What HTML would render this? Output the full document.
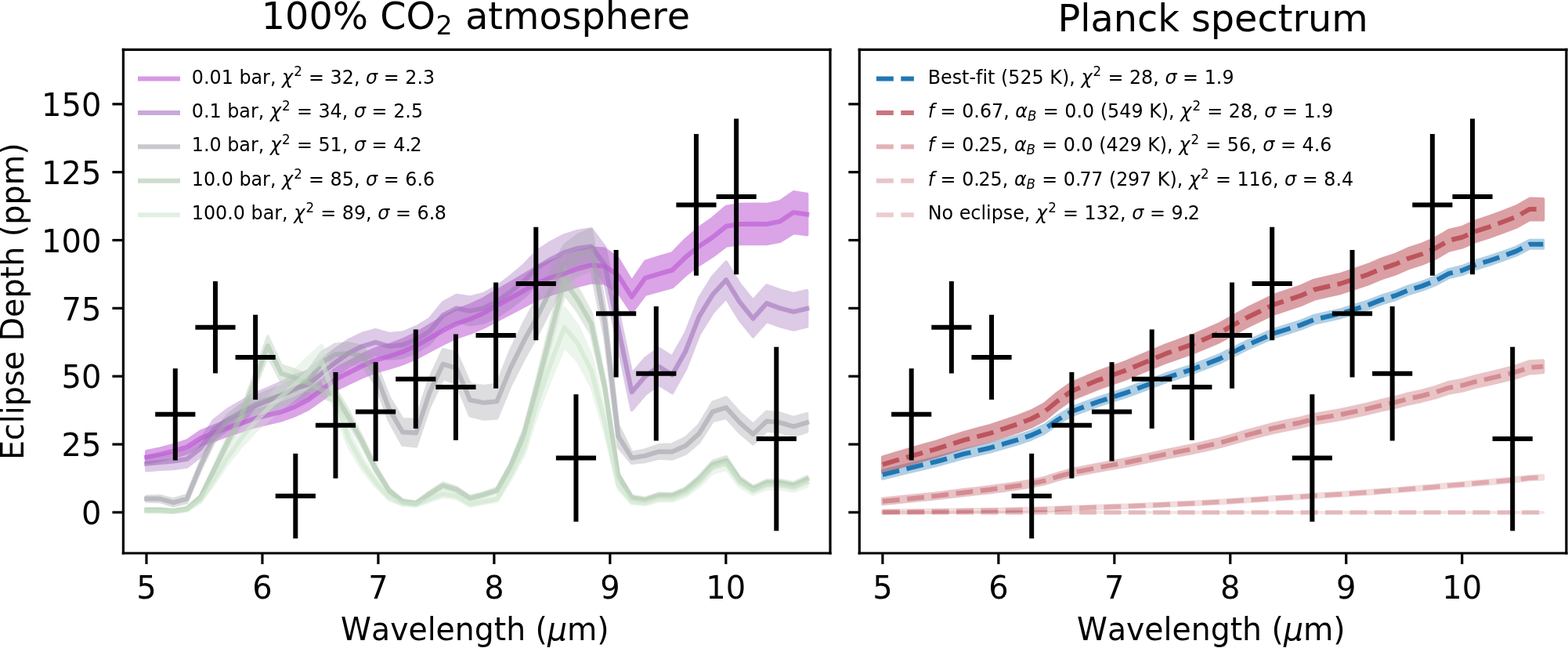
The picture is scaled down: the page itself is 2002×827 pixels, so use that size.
<!DOCTYPE html>
<html><head><meta charset="utf-8"><title>Eclipse depth spectra</title>
<style>html,body{margin:0;padding:0;background:#fff;}svg{display:block;}</style>
</head><body>
<svg width="2002" height="827" viewBox="0 0 500.5 206.75" version="1.1">
 <defs>
  <style type="text/css">*{stroke-linejoin: round; stroke-linecap: butt}</style>
 </defs>
 <g id="figure_1">
  <g id="patch_1">
   <path d="M 0 206.75
L 500.5 206.75
L 500.5 0
L 0 0
z
" style="fill: #ffffff"/>
  </g>
  <g id="axes_1">
   <g id="patch_2">
    <path d="M 39.35 176.5
L 265 176.5
L 265 15.85
L 39.35 15.85
z
" style="fill: #ffffff"/>
   </g>
   <g class="band">
    <defs>
     <path id="md05ada874d" d="M 46.748 -62.742
L 46.748 -59.064
L 51.051 -59.880
L 55.354 -60.860
L 59.657 -62.084
L 63.960 -64.696
L 68.264 -66.247
L 72.567 -67.798
L 76.870 -69.186
L 81.173 -70.574
L 85.476 -71.635
L 89.779 -72.614
L 94.082 -74.165
L 98.385 -76.206
L 102.689 -79.226
L 106.992 -82.328
L 111.295 -84.369
L 115.598 -86.409
L 119.901 -88.123
L 124.204 -89.266
L 128.507 -90.654
L 132.810 -92.450
L 137.114 -94.735
L 141.417 -97.021
L 145.720 -99.062
L 150.023 -100.449
L 154.326 -102.245
L 158.629 -104.531
L 162.932 -106.735
L 167.235 -109.020
L 171.539 -111.306
L 175.842 -112.857
L 180.145 -114.081
L 184.448 -115.550
L 188.751 -116.611
L 193.054 -116.367
L 197.357 -113.510
L 201.660 -107.143
L 205.964 -112.775
L 210.267 -113.999
L 214.570 -115.142
L 218.873 -119.060
L 223.176 -122.325
L 227.479 -125.019
L 231.782 -128.284
L 236.085 -128.937
L 240.389 -129.019
L 244.692 -128.937
L 248.995 -129.754
L 253.298 -132.447
L 257.601 -131.876
L 257.601 -144.849
L 257.601 -144.849
L 253.298 -145.494
L 248.995 -142.456
L 244.692 -141.536
L 240.389 -141.628
L 236.085 -141.536
L 231.782 -140.799
L 227.479 -137.117
L 223.176 -134.080
L 218.873 -130.398
L 214.570 -125.980
L 210.267 -124.691
L 205.964 -123.310
L 201.660 -116.959
L 197.357 -124.139
L 193.054 -127.360
L 188.751 -127.636
L 184.448 -126.440
L 180.145 -124.783
L 175.842 -123.402
L 171.539 -121.653
L 167.235 -119.076
L 162.932 -116.499
L 158.629 -114.013
L 154.326 -111.436
L 150.023 -109.411
L 145.720 -107.846
L 141.417 -105.545
L 137.114 -102.968
L 132.810 -100.390
L 128.507 -98.365
L 124.204 -96.800
L 119.901 -95.512
L 115.598 -93.579
L 111.295 -91.277
L 106.992 -88.976
L 102.689 -85.478
L 98.385 -82.073
L 94.082 -79.771
L 89.779 -78.022
L 85.476 -76.918
L 81.173 -75.721
L 76.870 -74.156
L 72.567 -72.592
L 68.264 -70.843
L 63.960 -69.094
L 59.657 -66.148
L 55.354 -64.768
L 51.051 -63.663
L 46.748 -62.742
z
" style="stroke: #ba55d3"/>
    </defs>
    <g clip-path="url(#pc95f56667c)">
     <use href="#md05ada874d" x="0" y="206.75" style="fill: #ba55d3; stroke: #ba55d3; opacity: 0.53"/>
    </g>
   </g>
   <g class="band">
    <defs>
     <path id="m4f93edb315" d="M 46.748 -60.990
L 46.748 -56.648
L 51.051 -56.974
L 55.354 -57.213
L 59.657 -57.799
L 63.960 -61.077
L 68.264 -66.830
L 72.567 -69.544
L 76.870 -71.389
L 81.173 -73.234
L 85.476 -74.884
L 89.779 -76.534
L 94.082 -78.618
L 98.385 -79.834
L 102.689 -83.221
L 106.992 -86.781
L 111.295 -89.907
L 115.598 -92.165
L 119.901 -93.554
L 124.204 -92.252
L 128.507 -92.686
L 132.810 -94.423
L 137.114 -97.028
L 141.417 -102.238
L 145.720 -104.214
L 150.023 -103.150
L 154.326 -103.823
L 158.629 -105.798
L 162.932 -108.664
L 167.235 -111.964
L 171.539 -116.132
L 175.842 -118.564
L 180.145 -120.691
L 184.448 -121.950
L 188.751 -122.515
L 193.054 -116.653
L 197.357 -96.290
L 201.660 -75.926
L 205.964 -80.963
L 210.267 -84.089
L 214.570 -81.397
L 218.873 -89.039
L 223.176 -100.067
L 227.479 -107.014
L 231.782 -111.703
L 236.085 -104.670
L 240.389 -99.372
L 244.692 -104.235
L 248.995 -102.672
L 253.298 -101.543
L 257.601 -102.585
L 257.601 -114.048
L 257.601 -114.048
L 253.298 -113.006
L 248.995 -114.135
L 244.692 -115.698
L 240.389 -110.835
L 236.085 -116.132
L 231.782 -123.166
L 227.479 -118.477
L 223.176 -111.530
L 218.873 -100.501
L 214.570 -92.860
L 210.267 -95.552
L 205.964 -92.425
L 201.660 -87.389
L 197.357 -107.665
L 193.054 -127.942
L 188.751 -133.717
L 184.448 -133.066
L 180.145 -131.720
L 175.842 -129.505
L 171.539 -126.726
L 167.235 -122.211
L 162.932 -118.564
L 158.629 -115.351
L 154.326 -112.984
L 150.023 -111.920
L 145.720 -112.593
L 141.417 -110.227
L 137.114 -105.017
L 132.810 -102.412
L 128.507 -100.675
L 124.204 -100.241
L 119.901 -101.543
L 115.598 -100.328
L 111.295 -98.244
L 106.992 -95.291
L 102.689 -91.904
L 98.385 -88.344
L 94.082 -86.955
L 89.779 -84.697
L 85.476 -82.873
L 81.173 -81.050
L 76.870 -78.553
L 72.567 -76.056
L 68.264 -72.691
L 63.960 -66.287
L 59.657 -62.792
L 55.354 -61.989
L 51.051 -61.533
L 46.748 -60.990
z
" style="stroke: #a371bc"/>
    </defs>
    <g clip-path="url(#pc95f56667c)">
     <use href="#m4f93edb315" x="0" y="206.75" style="fill: #a371bc; stroke: #a371bc; opacity: 0.37"/>
    </g>
   </g>
   <g class="band">
    <defs>
     <path id="mf6447848a7" d="M 46.748 -48.399
L 46.748 -46.836
L 51.051 -46.705
L 55.354 -45.359
L 59.657 -46.445
L 63.960 -56.735
L 68.264 -65.582
L 72.567 -70.521
L 76.870 -73.289
L 81.173 -75.188
L 85.476 -76.653
L 89.779 -77.685
L 94.082 -79.150
L 98.385 -81.484
L 102.689 -87.671
L 106.992 -90.385
L 111.295 -90.927
L 115.598 -90.168
L 119.901 -84.176
L 124.204 -72.540
L 128.507 -64.811
L 132.810 -64.362
L 137.114 -77.026
L 141.417 -85.956
L 145.720 -84.465
L 150.023 -74.117
L 154.326 -73.061
L 158.629 -73.321
L 162.932 -83.742
L 167.235 -92.252
L 171.539 -99.893
L 175.842 -108.404
L 180.145 -116.074
L 184.448 -119.056
L 188.751 -120.561
L 193.054 -99.068
L 197.357 -64.116
L 201.660 -58.993
L 205.964 -59.464
L 210.267 -60.544
L 214.570 -60.320
L 218.873 -62.007
L 223.176 -65.692
L 227.479 -72.415
L 231.782 -73.495
L 236.085 -68.777
L 240.389 -65.100
L 244.692 -69.327
L 248.995 -68.950
L 253.298 -67.706
L 257.601 -69.066
L 257.601 -74.797
L 257.601 -74.797
L 253.298 -73.553
L 248.995 -74.913
L 244.692 -75.405
L 240.389 -71.295
L 236.085 -75.087
L 231.782 -79.921
L 227.479 -78.395
L 223.176 -71.225
L 218.873 -67.094
L 214.570 -64.960
L 210.267 -64.737
L 205.964 -63.211
L 201.660 -62.293
L 197.357 -71.063
L 193.054 -109.055
L 188.751 -133.587
L 184.448 -131.792
L 180.145 -128.521
L 175.842 -120.561
L 171.539 -111.703
L 167.235 -103.714
L 162.932 -94.857
L 158.629 -84.089
L 154.326 -83.481
L 150.023 -84.161
L 145.720 -94.133
L 141.417 -95.248
L 137.114 -85.942
L 132.810 -72.901
L 128.507 -72.974
L 124.204 -80.008
L 119.901 -90.949
L 115.598 -96.246
L 111.295 -97.223
L 106.992 -96.898
L 102.689 -94.401
L 98.385 -88.431
L 94.082 -85.554
L 89.779 -83.546
L 85.476 -81.972
L 81.173 -79.964
L 76.870 -77.522
L 72.567 -74.211
L 68.264 -68.730
L 63.960 -59.340
L 59.657 -48.789
L 55.354 -47.443
L 51.051 -48.529
L 46.748 -48.399
z
" style="stroke: #a3a3ac"/>
    </defs>
    <g clip-path="url(#pc95f56667c)">
     <use href="#mf6447848a7" x="0" y="206.75" style="fill: #a3a3ac; stroke: #a3a3ac; opacity: 0.36"/>
    </g>
   </g>
   <g class="band">
    <defs>
     <path id="m26a98941f6" d="M 46.748 -44.443
L 46.748 -43.670
L 51.051 -43.670
L 55.354 -43.340
L 59.657 -44.000
L 63.960 -47.465
L 68.264 -55.715
L 72.567 -64.047
L 76.870 -71.801
L 81.173 -82.361
L 85.476 -93.415
L 89.779 -85.001
L 94.082 -83.763
L 98.385 -82.113
L 102.689 -80.051
L 106.992 -78.566
L 111.295 -71.801
L 115.598 -64.377
L 119.901 -56.127
L 124.204 -49.528
L 128.507 -46.228
L 132.810 -45.650
L 137.114 -48.538
L 141.417 -51.095
L 145.720 -49.857
L 150.023 -47.218
L 154.326 -48.290
L 158.629 -49.610
L 162.932 -56.787
L 167.235 -66.604
L 171.539 -81.618
L 175.842 -97.375
L 180.145 -113.049
L 184.448 -107.275
L 188.751 -100.098
L 193.054 -80.876
L 197.357 -54.065
L 201.660 -47.383
L 205.964 -46.723
L 210.267 -48.125
L 214.570 -48.043
L 218.873 -49.692
L 223.176 -53.075
L 227.479 -57.447
L 231.782 -58.685
L 236.085 -52.827
L 240.389 -50.105
L 244.692 -51.920
L 248.995 -51.920
L 253.298 -51.177
L 257.601 -52.992
L 257.601 -54.746
L 257.601 -54.746
L 253.298 -52.741
L 248.995 -53.561
L 244.692 -53.561
L 240.389 -51.555
L 236.085 -54.564
L 231.782 -61.038
L 227.479 -59.670
L 223.176 -54.838
L 218.873 -51.099
L 214.570 -49.276
L 210.267 -49.367
L 205.964 -47.817
L 201.660 -48.546
L 197.357 -55.932
L 193.054 -85.565
L 188.751 -106.810
L 184.448 -114.743
L 180.145 -121.125
L 175.842 -103.801
L 171.539 -86.386
L 167.235 -69.791
L 162.932 -58.941
L 158.629 -51.008
L 154.326 -49.549
L 150.023 -48.364
L 145.720 -51.282
L 141.417 -52.649
L 137.114 -49.823
L 132.810 -46.631
L 128.507 -47.270
L 124.204 -50.917
L 119.901 -58.211
L 115.598 -67.329
L 111.295 -75.535
L 106.992 -83.012
L 102.689 -84.653
L 98.385 -86.933
L 94.082 -88.756
L 89.779 -90.124
L 85.476 -99.425
L 81.173 -87.206
L 76.870 -75.535
L 72.567 -66.965
L 68.264 -57.755
L 63.960 -48.637
L 59.657 -44.808
L 55.354 -44.078
L 51.051 -44.443
L 46.748 -44.443
z
" style="stroke: #acc5ac"/>
    </defs>
    <g clip-path="url(#pc95f56667c)">
     <use href="#m26a98941f6" x="0" y="206.75" style="fill: #acc5ac; stroke: #acc5ac; opacity: 0.36"/>
    </g>
   </g>
   <g class="band">
    <defs>
     <path id="mf3c87ecc90" d="M 46.748 -44.100
L 46.748 -43.319
L 51.051 -43.319
L 55.354 -43.162
L 59.657 -43.709
L 63.960 -46.445
L 68.264 -52.306
L 72.567 -58.559
L 76.870 -64.029
L 81.173 -68.719
L 85.476 -72.626
L 89.779 -76.143
L 94.082 -79.660
L 98.385 -83.177
L 102.689 -86.303
L 106.992 -75.753
L 111.295 -64.029
L 115.598 -56.996
L 119.901 -51.525
L 124.204 -47.226
L 128.507 -45.507
L 132.810 -45.272
L 137.114 -46.757
L 141.417 -48.242
L 145.720 -47.617
L 150.023 -45.272
L 154.326 -46.054
L 158.629 -46.757
L 162.932 -53.635
L 167.235 -61.450
L 171.539 -74.737
L 175.842 -85.913
L 180.145 -96.073
L 184.448 -91.383
L 188.751 -83.568
L 193.054 -68.719
L 197.357 -50.743
L 201.660 -46.054
L 205.964 -45.663
L 210.267 -46.836
L 214.570 -46.836
L 218.873 -48.399
L 223.176 -51.525
L 227.479 -55.823
L 231.782 -56.996
L 236.085 -51.525
L 240.389 -49.024
L 244.692 -50.743
L 248.995 -50.743
L 253.298 -49.962
L 257.601 -51.525
L 257.601 -54.130
L 257.601 -54.130
L 253.298 -52.219
L 248.995 -53.175
L 244.692 -53.175
L 240.389 -51.073
L 236.085 -54.130
L 231.782 -60.816
L 227.479 -59.384
L 223.176 -54.130
L 218.873 -50.309
L 214.570 -48.399
L 210.267 -48.399
L 205.964 -46.966
L 201.660 -47.443
L 197.357 -53.175
L 193.054 -75.145
L 188.751 -93.294
L 184.448 -102.846
L 180.145 -108.577
L 175.842 -96.159
L 171.539 -82.500
L 167.235 -66.261
L 162.932 -56.709
L 158.629 -48.303
L 154.326 -47.443
L 150.023 -46.488
L 145.720 -49.354
L 141.417 -50.118
L 137.114 -48.303
L 132.810 -46.488
L 128.507 -46.775
L 124.204 -48.876
L 119.901 -54.130
L 115.598 -60.816
L 111.295 -69.413
L 106.992 -83.742
L 102.689 -96.637
L 98.385 -92.816
L 94.082 -88.518
L 89.779 -84.219
L 85.476 -79.921
L 81.173 -75.145
L 76.870 -69.413
L 72.567 -62.727
L 68.264 -55.085
L 63.960 -47.921
L 59.657 -44.578
L 55.354 -43.909
L 51.051 -44.100
L 46.748 -44.100
z
" style="stroke: #cde6cd"/>
    </defs>
    <g clip-path="url(#pc95f56667c)">
     <use href="#mf3c87ecc90" x="0" y="206.75" style="fill: #cde6cd; stroke: #cde6cd; opacity: 0.36"/>
    </g>
   </g>
   <g id="matplotlib.axis_1">
    <g id="xtick_1">
     <g id="line2d_1">
      <defs>
       <path id="m1504cfccaf" d="M 0 0
L 0 3.5
" style="stroke: #000000; stroke-width: 0.8"/>
      </defs>
      <g>
       <use href="#m1504cfccaf" x="46.748" y="176.5" style="stroke: #000000; stroke-width: 0.8"/>
      </g>
     </g>
     <g id="text_1">
      <text style="font-size: 10px; font-family: 'DejaVu Sans', 'Liberation Sans', sans-serif; text-anchor: middle" x="46.748" y="191.098" transform="rotate(-0 46.748 191.098)">5</text>
     </g>
    </g>
    <g id="xtick_2">
     <g id="line2d_2">
      <g>
       <use href="#m1504cfccaf" x="83.740" y="176.5" style="stroke: #000000; stroke-width: 0.8"/>
      </g>
     </g>
     <g id="text_2">
      <text style="font-size: 10px; font-family: 'DejaVu Sans', 'Liberation Sans', sans-serif; text-anchor: middle" x="83.740" y="191.098" transform="rotate(-0 83.740 191.098)">6</text>
     </g>
    </g>
    <g id="xtick_3">
     <g id="line2d_3">
      <g>
       <use href="#m1504cfccaf" x="120.731" y="176.5" style="stroke: #000000; stroke-width: 0.8"/>
      </g>
     </g>
     <g id="text_3">
      <text style="font-size: 10px; font-family: 'DejaVu Sans', 'Liberation Sans', sans-serif; text-anchor: middle" x="120.731" y="191.098" transform="rotate(-0 120.731 191.098)">7</text>
     </g>
    </g>
    <g id="xtick_4">
     <g id="line2d_4">
      <g>
       <use href="#m1504cfccaf" x="157.723" y="176.5" style="stroke: #000000; stroke-width: 0.8"/>
      </g>
     </g>
     <g id="text_4">
      <text style="font-size: 10px; font-family: 'DejaVu Sans', 'Liberation Sans', sans-serif; text-anchor: middle" x="157.723" y="191.098" transform="rotate(-0 157.723 191.098)">8</text>
     </g>
    </g>
    <g id="xtick_5">
     <g id="line2d_5">
      <g>
       <use href="#m1504cfccaf" x="194.715" y="176.5" style="stroke: #000000; stroke-width: 0.8"/>
      </g>
     </g>
     <g id="text_5">
      <text style="font-size: 10px; font-family: 'DejaVu Sans', 'Liberation Sans', sans-serif; text-anchor: middle" x="194.715" y="191.098" transform="rotate(-0 194.715 191.098)">9</text>
     </g>
    </g>
    <g id="xtick_6">
     <g id="line2d_6">
      <g>
       <use href="#m1504cfccaf" x="231.707" y="176.5" style="stroke: #000000; stroke-width: 0.8"/>
      </g>
     </g>
     <g id="text_6">
      <text style="font-size: 10px; font-family: 'DejaVu Sans', 'Liberation Sans', sans-serif; text-anchor: middle" x="231.707" y="191.098" transform="rotate(-0 231.707 191.098)">10</text>
     </g>
    </g>
    <g id="text_7">
     <!-- Wavelength ($\mu$m) -->
     <g transform="translate(108.78 204.778) scale(0.984 1)">
      <text>
       <tspan x="0" y="-0.406" style="font-size: 10px; font-family: 'DejaVu Sans', 'Liberation Sans', sans-serif">W</tspan>
       <tspan x="9.887" y="-0.406" style="font-size: 10px; font-family: 'DejaVu Sans', 'Liberation Sans', sans-serif">a</tspan>
       <tspan x="16.015" y="-0.406" style="font-size: 10px; font-family: 'DejaVu Sans', 'Liberation Sans', sans-serif">v</tspan>
       <tspan x="21.933" y="-0.406" style="font-size: 10px; font-family: 'DejaVu Sans', 'Liberation Sans', sans-serif">e</tspan>
       <tspan x="28.085" y="-0.406" style="font-size: 10px; font-family: 'DejaVu Sans', 'Liberation Sans', sans-serif">l</tspan>
       <tspan x="30.864" y="-0.406" style="font-size: 10px; font-family: 'DejaVu Sans', 'Liberation Sans', sans-serif">e</tspan>
       <tspan x="37.016" y="-0.406" style="font-size: 10px; font-family: 'DejaVu Sans', 'Liberation Sans', sans-serif">n</tspan>
       <tspan x="43.354" y="-0.406" style="font-size: 10px; font-family: 'DejaVu Sans', 'Liberation Sans', sans-serif">g</tspan>
       <tspan x="49.702" y="-0.406" style="font-size: 10px; font-family: 'DejaVu Sans', 'Liberation Sans', sans-serif">t</tspan>
       <tspan x="53.623" y="-0.406" style="font-size: 10px; font-family: 'DejaVu Sans', 'Liberation Sans', sans-serif">h</tspan>
       <tspan x="59.960" y="-0.406" style="font-size: 10px; font-family: 'DejaVu Sans', 'Liberation Sans', sans-serif"> </tspan>
       <tspan x="63.139" y="-0.406" style="font-size: 10px; font-family: 'DejaVu Sans', 'Liberation Sans', sans-serif">(</tspan>
       <tspan x="73.403" y="-0.406" style="font-size: 10px; font-family: 'DejaVu Sans', 'Liberation Sans', sans-serif">m</tspan>
       <tspan x="83.144" y="-0.406" style="font-size: 10px; font-family: 'DejaVu Sans', 'Liberation Sans', sans-serif">)</tspan>
       <tspan x="67.041" y="-0.406" style="font-style: oblique; font-size: 10px; font-family: 'DejaVu Sans', 'Liberation Sans', sans-serif">μ</tspan>
      </text>
     </g>
    </g>
   </g>
   <g id="matplotlib.axis_2">
    <g id="ytick_1">
     <g id="line2d_7">
      <defs>
       <path id="m5d545ce8f8" d="M 0 0
L -3.5 0
" style="stroke: #000000; stroke-width: 0.8"/>
      </defs>
      <g>
       <use href="#m5d545ce8f8" x="39.35" y="163.474" style="stroke: #000000; stroke-width: 0.8"/>
      </g>
     </g>
     <g id="text_8">
      <text style="font-size: 10px; font-family: 'DejaVu Sans', 'Liberation Sans', sans-serif; text-anchor: end" x="32.35" y="167.273" transform="rotate(-0 32.35 167.273)">0</text>
     </g>
    </g>
    <g id="ytick_2">
     <g id="line2d_8">
      <g>
       <use href="#m5d545ce8f8" x="39.35" y="141.764" style="stroke: #000000; stroke-width: 0.8"/>
      </g>
     </g>
     <g id="text_9">
      <text style="font-size: 10px; font-family: 'DejaVu Sans', 'Liberation Sans', sans-serif; text-anchor: end" x="32.35" y="145.564" transform="rotate(-0 32.35 145.564)">25</text>
     </g>
    </g>
    <g id="ytick_3">
     <g id="line2d_9">
      <g>
       <use href="#m5d545ce8f8" x="39.35" y="120.055" style="stroke: #000000; stroke-width: 0.8"/>
      </g>
     </g>
     <g id="text_10">
      <text style="font-size: 10px; font-family: 'DejaVu Sans', 'Liberation Sans', sans-serif; text-anchor: end" x="32.35" y="123.854" transform="rotate(-0 32.35 123.854)">50</text>
     </g>
    </g>
    <g id="ytick_4">
     <g id="line2d_10">
      <g>
       <use href="#m5d545ce8f8" x="39.35" y="98.345" style="stroke: #000000; stroke-width: 0.8"/>
      </g>
     </g>
     <g id="text_11">
      <text style="font-size: 10px; font-family: 'DejaVu Sans', 'Liberation Sans', sans-serif; text-anchor: end" x="32.35" y="102.145" transform="rotate(-0 32.35 102.145)">75</text>
     </g>
    </g>
    <g id="ytick_5">
     <g id="line2d_11">
      <g>
       <use href="#m5d545ce8f8" x="39.35" y="76.636" style="stroke: #000000; stroke-width: 0.8"/>
      </g>
     </g>
     <g id="text_12">
      <text style="font-size: 10px; font-family: 'DejaVu Sans', 'Liberation Sans', sans-serif; text-anchor: end" x="32.35" y="80.435" transform="rotate(-0 32.35 80.435)">100</text>
     </g>
    </g>
    <g id="ytick_6">
     <g id="line2d_12">
      <g>
       <use href="#m5d545ce8f8" x="39.35" y="54.927" style="stroke: #000000; stroke-width: 0.8"/>
      </g>
     </g>
     <g id="text_13">
      <text style="font-size: 10px; font-family: 'DejaVu Sans', 'Liberation Sans', sans-serif; text-anchor: end" x="32.35" y="58.726" transform="rotate(-0 32.35 58.726)">125</text>
     </g>
    </g>
    <g id="ytick_7">
     <g id="line2d_13">
      <g>
       <use href="#m5d545ce8f8" x="39.35" y="33.217" style="stroke: #000000; stroke-width: 0.8"/>
      </g>
     </g>
     <g id="text_14">
      <text style="font-size: 10px; font-family: 'DejaVu Sans', 'Liberation Sans', sans-serif; text-anchor: end" x="32.35" y="37.016" transform="rotate(-0 32.35 37.016)">150</text>
     </g>
    </g>
    <g id="text_15">
     <text style="font-size: 10px; font-family: 'DejaVu Sans', 'Liberation Sans', sans-serif; text-anchor: middle" x="7.532" y="96.175" transform="rotate(-90 7.532 96.175) translate(7.532 96.175) scale(0.991 1) translate(-7.532 -96.175)">Eclipse Depth (ppm)</text>
    </g>
   </g>
   <g id="line2d_14">
    <path d="M 46.748 145.846
L 51.051 144.977
L 55.354 143.935
L 59.657 142.633
L 63.960 139.854
L 68.264 138.204
L 72.567 136.554
L 76.870 135.078
L 81.173 133.602
L 85.476 132.473
L 89.779 131.431
L 94.082 129.781
L 98.385 127.610
L 102.689 124.397
L 106.992 121.097
L 111.295 118.926
L 115.598 116.755
L 119.901 114.931
L 124.204 113.716
L 128.507 112.24
L 132.810 110.329
L 137.114 107.898
L 141.417 105.466
L 145.720 103.295
L 150.023 101.819
L 154.326 99.909
L 158.629 97.477
L 162.932 95.132
L 167.235 92.701
L 171.539 90.270
L 175.842 88.620
L 180.145 87.317
L 184.448 85.754
L 188.751 84.625
L 193.054 84.886
L 197.357 87.925
L 201.660 94.698
L 205.964 88.706
L 210.267 87.404
L 214.570 86.188
L 218.873 82.020
L 223.176 78.546
L 227.479 75.681
L 231.782 72.207
L 236.085 71.513
L 240.389 71.426
L 244.692 71.513
L 248.995 70.644
L 253.298 67.779
L 257.601 68.386
" clip-path="url(#pc95f56667c)" style="fill: none; stroke: #ba55d3; stroke-opacity: 0.6; stroke-width: 1.5; stroke-linecap: square"/>
   </g>
   <g id="line2d_15">
    <path d="M 46.748 147.930
L 51.051 147.496
L 55.354 147.148
L 59.657 146.454
L 63.960 143.067
L 68.264 136.988
L 72.567 133.949
L 76.870 131.778
L 81.173 129.607
L 85.476 127.870
L 89.779 126.134
L 94.082 123.963
L 98.385 122.660
L 102.689 119.187
L 106.992 115.713
L 111.295 112.674
L 115.598 110.503
L 119.901 109.200
L 124.204 110.503
L 128.507 110.069
L 132.810 108.332
L 137.114 105.727
L 141.417 100.516
L 145.720 98.345
L 150.023 99.214
L 154.326 98.345
L 158.629 96.175
L 162.932 93.135
L 167.235 89.662
L 171.539 85.320
L 175.842 82.715
L 180.145 80.544
L 184.448 79.241
L 188.751 78.633
L 193.054 84.451
L 197.357 104.771
L 201.660 125.092
L 205.964 120.055
L 210.267 116.929
L 214.570 119.621
L 218.873 111.979
L 223.176 100.951
L 227.479 94.004
L 231.782 89.314
L 236.085 96.348
L 240.389 101.645
L 244.692 96.782
L 248.995 98.345
L 253.298 99.474
L 257.601 98.432
" clip-path="url(#pc95f56667c)" style="fill: none; stroke: #a371bc; stroke-opacity: 0.6; stroke-width: 1.5; stroke-linecap: square"/>
   </g>
   <g id="line2d_16">
    <path d="M 46.748 159.132
L 51.051 159.132
L 55.354 160.348
L 59.657 159.132
L 63.960 148.711
L 68.264 139.593
L 72.567 134.383
L 76.870 131.344
L 81.173 129.173
L 85.476 127.436
L 89.779 126.134
L 94.082 124.397
L 98.385 121.792
L 102.689 115.713
L 106.992 113.108
L 111.295 112.674
L 115.598 113.542
L 119.901 119.187
L 124.204 130.475
L 128.507 137.857
L 132.810 138.117
L 137.114 125.265
L 141.417 116.147
L 145.720 117.450
L 150.023 127.610
L 154.326 128.478
L 158.629 128.044
L 162.932 117.450
L 167.235 108.766
L 171.539 100.951
L 175.842 92.267
L 180.145 84.451
L 184.448 81.325
L 188.751 79.675
L 193.054 102.687
L 197.357 139.159
L 201.660 146.106
L 205.964 145.412
L 210.267 144.109
L 214.570 144.109
L 218.873 142.199
L 223.176 138.291
L 227.479 131.344
L 231.782 130.041
L 236.085 134.817
L 240.389 138.551
L 244.692 134.383
L 248.995 134.817
L 253.298 136.120
L 257.601 134.817
" clip-path="url(#pc95f56667c)" style="fill: none; stroke: #a3a3ac; stroke-opacity: 0.6; stroke-width: 1.5; stroke-linecap: square"/>
   </g>
   <g id="line2d_17">
    <path d="M 46.748 162.692
L 51.051 162.692
L 55.354 163.040
L 59.657 162.345
L 63.960 158.698
L 68.264 150.014
L 72.567 141.243
L 76.870 133.081
L 81.173 121.965
L 85.476 110.329
L 89.779 119.187
L 94.082 120.489
L 98.385 122.226
L 102.689 124.397
L 106.992 125.960
L 111.295 133.081
L 115.598 140.896
L 119.901 149.580
L 124.204 156.527
L 128.507 160.000
L 132.810 160.608
L 137.114 157.569
L 141.417 154.877
L 145.720 156.179
L 150.023 158.958
L 154.326 157.829
L 158.629 156.440
L 162.932 148.885
L 167.235 138.551
L 171.539 122.747
L 175.842 106.161
L 180.145 89.662
L 184.448 95.740
L 188.751 103.295
L 193.054 123.528
L 197.357 151.751
L 201.660 158.785
L 205.964 159.479
L 210.267 158.003
L 214.570 158.090
L 218.873 156.353
L 223.176 152.793
L 227.479 148.190
L 231.782 146.888
L 236.085 153.053
L 240.389 155.919
L 244.692 154.009
L 248.995 154.009
L 253.298 154.790
L 257.601 152.880
" clip-path="url(#pc95f56667c)" style="fill: none; stroke: #acc5ac; stroke-opacity: 0.6; stroke-width: 1.5; stroke-linecap: square"/>
   </g>
   <g id="line2d_18">
    <path d="M 46.748 163.040
L 51.051 163.040
L 55.354 163.213
L 59.657 162.605
L 63.960 159.566
L 68.264 153.053
L 72.567 146.106
L 76.870 140.028
L 81.173 134.817
L 85.476 130.475
L 89.779 126.568
L 94.082 122.660
L 98.385 118.752
L 102.689 115.279
L 106.992 127.002
L 111.295 140.028
L 115.598 147.843
L 119.901 153.922
L 124.204 158.698
L 128.507 160.608
L 132.810 160.869
L 137.114 159.219
L 141.417 157.569
L 145.720 158.264
L 150.023 160.869
L 154.326 160.000
L 158.629 159.219
L 162.932 151.577
L 167.235 142.893
L 171.539 128.131
L 175.842 115.713
L 180.145 104.424
L 184.448 109.634
L 188.751 118.318
L 193.054 134.817
L 197.357 154.790
L 201.660 160.000
L 205.964 160.435
L 210.267 159.132
L 214.570 159.132
L 218.873 157.395
L 223.176 153.922
L 227.479 149.146
L 231.782 147.843
L 236.085 153.922
L 240.389 156.700
L 244.692 154.790
L 248.995 154.790
L 253.298 155.658
L 257.601 153.922
" clip-path="url(#pc95f56667c)" style="fill: none; stroke: #cde6cd; stroke-opacity: 0.6; stroke-width: 1.5; stroke-linecap: square"/>
   </g>
   <g id="patch_3">
    <path d="M 39.35 176.5
L 39.35 15.85
" style="fill: none; stroke: #000000; stroke-width: 0.8; stroke-linejoin: miter; stroke-linecap: square"/>
   </g>
   <g id="patch_4">
    <path d="M 265 176.5
L 265 15.85
" style="fill: none; stroke: #000000; stroke-width: 0.8; stroke-linejoin: miter; stroke-linecap: square"/>
   </g>
   <g id="patch_5">
    <path d="M 39.35 176.5
L 265 176.5
" style="fill: none; stroke: #000000; stroke-width: 0.8; stroke-linejoin: miter; stroke-linecap: square"/>
   </g>
   <g id="patch_6">
    <path d="M 39.35 15.85
L 265 15.85
" style="fill: none; stroke: #000000; stroke-width: 0.8; stroke-linejoin: miter; stroke-linecap: square"/>
   </g>
   <g id="text_16">
    <!-- 100% CO$_2$ atmosphere -->
    <g transform="translate(83.445 10.025) scale(0.993 1)">
     <text>
      <tspan x="0" y="-0.875" style="font-size: 12px; font-family: 'DejaVu Sans', 'Liberation Sans', sans-serif">1</tspan>
      <tspan x="7.634" y="-0.875" style="font-size: 12px; font-family: 'DejaVu Sans', 'Liberation Sans', sans-serif">0</tspan>
      <tspan x="15.269" y="-0.875" style="font-size: 12px; font-family: 'DejaVu Sans', 'Liberation Sans', sans-serif">0</tspan>
      <tspan x="22.904" y="-0.875" style="font-size: 12px; font-family: 'DejaVu Sans', 'Liberation Sans', sans-serif">%</tspan>
      <tspan x="34.306" y="-0.875" style="font-size: 12px; font-family: 'DejaVu Sans', 'Liberation Sans', sans-serif"> </tspan>
      <tspan x="38.121" y="-0.875" style="font-size: 12px; font-family: 'DejaVu Sans', 'Liberation Sans', sans-serif">C</tspan>
      <tspan x="46.5" y="-0.875" style="font-size: 12px; font-family: 'DejaVu Sans', 'Liberation Sans', sans-serif">O</tspan>
      <tspan x="61.732" y="-0.875" style="font-size: 12px; font-family: 'DejaVu Sans', 'Liberation Sans', sans-serif"> </tspan>
      <tspan x="65.547" y="-0.875" style="font-size: 12px; font-family: 'DejaVu Sans', 'Liberation Sans', sans-serif">a</tspan>
      <tspan x="72.900" y="-0.875" style="font-size: 12px; font-family: 'DejaVu Sans', 'Liberation Sans', sans-serif">t</tspan>
      <tspan x="77.605" y="-0.875" style="font-size: 12px; font-family: 'DejaVu Sans', 'Liberation Sans', sans-serif">m</tspan>
      <tspan x="89.295" y="-0.875" style="font-size: 12px; font-family: 'DejaVu Sans', 'Liberation Sans', sans-serif">o</tspan>
      <tspan x="96.636" y="-0.875" style="font-size: 12px; font-family: 'DejaVu Sans', 'Liberation Sans', sans-serif">s</tspan>
      <tspan x="102.888" y="-0.875" style="font-size: 12px; font-family: 'DejaVu Sans', 'Liberation Sans', sans-serif">p</tspan>
      <tspan x="110.506" y="-0.875" style="font-size: 12px; font-family: 'DejaVu Sans', 'Liberation Sans', sans-serif">h</tspan>
      <tspan x="118.111" y="-0.875" style="font-size: 12px; font-family: 'DejaVu Sans', 'Liberation Sans', sans-serif">e</tspan>
      <tspan x="125.494" y="-0.875" style="font-size: 12px; font-family: 'DejaVu Sans', 'Liberation Sans', sans-serif">r</tspan>
      <tspan x="130.427" y="-0.875" style="font-size: 12px; font-family: 'DejaVu Sans', 'Liberation Sans', sans-serif">e</tspan>
      <tspan x="56.060" y="1.093" style="font-size: 8.4px; font-family: 'DejaVu Sans', 'Liberation Sans', sans-serif">2</tspan>
     </text>
    </g>
   </g>
   <g id="LineCollection_1">
    <path d="M 49.552 132.212
L 62.344 132.212
" clip-path="url(#pc95f56667c)" style="fill: none; stroke: #000000; stroke-width: 1.5"/>
    <path d="M 62.344 104.424
L 75.135 104.424
" clip-path="url(#pc95f56667c)" style="fill: none; stroke: #000000; stroke-width: 1.5"/>
    <path d="M 75.135 113.976
L 87.927 113.976
" clip-path="url(#pc95f56667c)" style="fill: none; stroke: #000000; stroke-width: 1.5"/>
    <path d="M 87.927 158.264
L 100.719 158.264
" clip-path="url(#pc95f56667c)" style="fill: none; stroke: #000000; stroke-width: 1.5"/>
    <path d="M 100.719 135.686
L 113.511 135.686
" clip-path="url(#pc95f56667c)" style="fill: none; stroke: #000000; stroke-width: 1.5"/>
    <path d="M 113.511 131.344
L 126.302 131.344
" clip-path="url(#pc95f56667c)" style="fill: none; stroke: #000000; stroke-width: 1.5"/>
    <path d="M 126.302 120.923
L 139.094 120.923
" clip-path="url(#pc95f56667c)" style="fill: none; stroke: #000000; stroke-width: 1.5"/>
    <path d="M 139.094 123.528
L 151.886 123.528
" clip-path="url(#pc95f56667c)" style="fill: none; stroke: #000000; stroke-width: 1.5"/>
    <path d="M 151.886 107.029
L 164.678 107.029
" clip-path="url(#pc95f56667c)" style="fill: none; stroke: #000000; stroke-width: 1.5"/>
    <path d="M 164.678 90.530
L 177.469 90.530
" clip-path="url(#pc95f56667c)" style="fill: none; stroke: #000000; stroke-width: 1.5"/>
    <path d="M 177.469 146.106
L 190.261 146.106
" clip-path="url(#pc95f56667c)" style="fill: none; stroke: #000000; stroke-width: 1.5"/>
    <path d="M 190.261 100.082
L 203.053 100.082
" clip-path="url(#pc95f56667c)" style="fill: none; stroke: #000000; stroke-width: 1.5"/>
    <path d="M 203.053 119.187
L 215.845 119.187
" clip-path="url(#pc95f56667c)" style="fill: none; stroke: #000000; stroke-width: 1.5"/>
    <path d="M 215.845 65.347
L 228.637 65.347
" clip-path="url(#pc95f56667c)" style="fill: none; stroke: #000000; stroke-width: 1.5"/>
    <path d="M 228.637 62.742
L 241.428 62.742
" clip-path="url(#pc95f56667c)" style="fill: none; stroke: #000000; stroke-width: 1.5"/>
    <path d="M 241.428 140.028
L 254.220 140.028
" clip-path="url(#pc95f56667c)" style="fill: none; stroke: #000000; stroke-width: 1.5"/>
   </g>
   <g id="LineCollection_2">
    <path d="M 55.948 146.888
L 55.948 117.537
" clip-path="url(#pc95f56667c)" style="fill: none; stroke: #000000; stroke-width: 1.5"/>
    <path d="M 68.739 119.100
L 68.739 89.749
" clip-path="url(#pc95f56667c)" style="fill: none; stroke: #000000; stroke-width: 1.5"/>
    <path d="M 81.531 127.523
L 81.531 100.430
" clip-path="url(#pc95f56667c)" style="fill: none; stroke: #000000; stroke-width: 1.5"/>
    <path d="M 94.323 171.810
L 94.323 144.717
" clip-path="url(#pc95f56667c)" style="fill: none; stroke: #000000; stroke-width: 1.5"/>
    <path d="M 107.115 152.619
L 107.115 118.752
" clip-path="url(#pc95f56667c)" style="fill: none; stroke: #000000; stroke-width: 1.5"/>
    <path d="M 119.907 147.148
L 119.907 115.539
" clip-path="url(#pc95f56667c)" style="fill: none; stroke: #000000; stroke-width: 1.5"/>
    <path d="M 132.698 136.728
L 132.698 105.119
" clip-path="url(#pc95f56667c)" style="fill: none; stroke: #000000; stroke-width: 1.5"/>
    <path d="M 145.490 140.462
L 145.490 106.595
" clip-path="url(#pc95f56667c)" style="fill: none; stroke: #000000; stroke-width: 1.5"/>
    <path d="M 158.282 123.963
L 158.282 90.096
" clip-path="url(#pc95f56667c)" style="fill: none; stroke: #000000; stroke-width: 1.5"/>
    <path d="M 171.074 108.592
L 171.074 72.468
" clip-path="url(#pc95f56667c)" style="fill: none; stroke: #000000; stroke-width: 1.5"/>
    <path d="M 183.865 166.426
L 183.865 125.786
" clip-path="url(#pc95f56667c)" style="fill: none; stroke: #000000; stroke-width: 1.5"/>
    <path d="M 196.657 120.402
L 196.657 79.762
" clip-path="url(#pc95f56667c)" style="fill: none; stroke: #000000; stroke-width: 1.5"/>
    <path d="M 209.449 140.635
L 209.449 97.738
" clip-path="url(#pc95f56667c)" style="fill: none; stroke: #000000; stroke-width: 1.5"/>
    <path d="M 222.241 87.925
L 222.241 42.769
" clip-path="url(#pc95f56667c)" style="fill: none; stroke: #000000; stroke-width: 1.5"/>
    <path d="M 235.032 87.578
L 235.032 37.906
" clip-path="url(#pc95f56667c)" style="fill: none; stroke: #000000; stroke-width: 1.5"/>
    <path d="M 247.824 169.379
L 247.824 110.676
" clip-path="url(#pc95f56667c)" style="fill: none; stroke: #000000; stroke-width: 1.5"/>
   </g>
   <g id="legend_1">
    <g id="line2d_19">
     <path d="M 44.75 25.11
L 50.75 25.11
L 56.75 25.11
" style="fill: none; stroke: #ba55d3; stroke-opacity: 0.6; stroke-width: 1.5; stroke-linecap: square"/>
    </g>
    <g id="text_17">
     <!-- 0.01 bar, $\chi^2$ = 32, $\sigma$ = 2.3 -->
     <g transform="translate(61.19 27.21) scale(0.993 1)">
      <text>
       <tspan x="0" y="-0.585" style="font-size: 6px; font-family: 'DejaVu Sans', 'Liberation Sans', sans-serif">0</tspan>
       <tspan x="3.817" y="-0.585" style="font-size: 6px; font-family: 'DejaVu Sans', 'Liberation Sans', sans-serif">.</tspan>
       <tspan x="5.724" y="-0.585" style="font-size: 6px; font-family: 'DejaVu Sans', 'Liberation Sans', sans-serif">0</tspan>
       <tspan x="9.541" y="-0.585" style="font-size: 6px; font-family: 'DejaVu Sans', 'Liberation Sans', sans-serif">1</tspan>
       <tspan x="13.359" y="-0.585" style="font-size: 6px; font-family: 'DejaVu Sans', 'Liberation Sans', sans-serif"> </tspan>
       <tspan x="15.266" y="-0.585" style="font-size: 6px; font-family: 'DejaVu Sans', 'Liberation Sans', sans-serif">b</tspan>
       <tspan x="19.075" y="-0.585" style="font-size: 6px; font-family: 'DejaVu Sans', 'Liberation Sans', sans-serif">a</tspan>
       <tspan x="22.751" y="-0.585" style="font-size: 6px; font-family: 'DejaVu Sans', 'Liberation Sans', sans-serif">r</tspan>
       <tspan x="25.218" y="-0.585" style="font-size: 6px; font-family: 'DejaVu Sans', 'Liberation Sans', sans-serif">,</tspan>
       <tspan x="27.125" y="-0.585" style="font-size: 6px; font-family: 'DejaVu Sans', 'Liberation Sans', sans-serif"> </tspan>
       <tspan x="35.688" y="-0.585" style="font-size: 6px; font-family: 'DejaVu Sans', 'Liberation Sans', sans-serif"> </tspan>
       <tspan x="37.595" y="-0.585" style="font-size: 6px; font-family: 'DejaVu Sans', 'Liberation Sans', sans-serif">=</tspan>
       <tspan x="42.622" y="-0.585" style="font-size: 6px; font-family: 'DejaVu Sans', 'Liberation Sans', sans-serif"> </tspan>
       <tspan x="44.529" y="-0.585" style="font-size: 6px; font-family: 'DejaVu Sans', 'Liberation Sans', sans-serif">3</tspan>
       <tspan x="48.347" y="-0.585" style="font-size: 6px; font-family: 'DejaVu Sans', 'Liberation Sans', sans-serif">2</tspan>
       <tspan x="52.164" y="-0.585" style="font-size: 6px; font-family: 'DejaVu Sans', 'Liberation Sans', sans-serif">,</tspan>
       <tspan x="54.071" y="-0.585" style="font-size: 6px; font-family: 'DejaVu Sans', 'Liberation Sans', sans-serif"> </tspan>
       <tspan x="59.781" y="-0.585" style="font-size: 6px; font-family: 'DejaVu Sans', 'Liberation Sans', sans-serif"> </tspan>
       <tspan x="61.689" y="-0.585" style="font-size: 6px; font-family: 'DejaVu Sans', 'Liberation Sans', sans-serif">=</tspan>
       <tspan x="66.716" y="-0.585" style="font-size: 6px; font-family: 'DejaVu Sans', 'Liberation Sans', sans-serif"> </tspan>
       <tspan x="68.623" y="-0.585" style="font-size: 6px; font-family: 'DejaVu Sans', 'Liberation Sans', sans-serif">2</tspan>
       <tspan x="72.441" y="-0.585" style="font-size: 6px; font-family: 'DejaVu Sans', 'Liberation Sans', sans-serif">.</tspan>
       <tspan x="74.348" y="-0.585" style="font-size: 6px; font-family: 'DejaVu Sans', 'Liberation Sans', sans-serif">3</tspan>
       <tspan x="29.033" y="-0.585" style="font-style: oblique; font-size: 6px; font-family: 'DejaVu Sans', 'Liberation Sans', sans-serif">χ</tspan>
       <tspan x="55.979" y="-0.585" style="font-style: oblique; font-size: 6px; font-family: 'DejaVu Sans', 'Liberation Sans', sans-serif">σ</tspan>
       <tspan x="32.851" y="-2.882" style="font-size: 4.2px; font-family: 'DejaVu Sans', 'Liberation Sans', sans-serif">2</tspan>
      </text>
     </g>
    </g>
    <g id="line2d_20">
     <path d="M 44.75 35.97
L 50.75 35.97
L 56.75 35.97
" style="fill: none; stroke: #a371bc; stroke-opacity: 0.6; stroke-width: 1.5; stroke-linecap: square"/>
    </g>
    <g id="text_18">
     <!-- 0.1 bar, $\chi^2$ = 34, $\sigma$ = 2.5 -->
     <g transform="translate(61.19 38.07) scale(0.993 1)">
      <text>
       <tspan x="0" y="-0.585" style="font-size: 6px; font-family: 'DejaVu Sans', 'Liberation Sans', sans-serif">0</tspan>
       <tspan x="3.817" y="-0.585" style="font-size: 6px; font-family: 'DejaVu Sans', 'Liberation Sans', sans-serif">.</tspan>
       <tspan x="5.724" y="-0.585" style="font-size: 6px; font-family: 'DejaVu Sans', 'Liberation Sans', sans-serif">1</tspan>
       <tspan x="9.541" y="-0.585" style="font-size: 6px; font-family: 'DejaVu Sans', 'Liberation Sans', sans-serif"> </tspan>
       <tspan x="11.449" y="-0.585" style="font-size: 6px; font-family: 'DejaVu Sans', 'Liberation Sans', sans-serif">b</tspan>
       <tspan x="15.257" y="-0.585" style="font-size: 6px; font-family: 'DejaVu Sans', 'Liberation Sans', sans-serif">a</tspan>
       <tspan x="18.934" y="-0.585" style="font-size: 6px; font-family: 'DejaVu Sans', 'Liberation Sans', sans-serif">r</tspan>
       <tspan x="21.401" y="-0.585" style="font-size: 6px; font-family: 'DejaVu Sans', 'Liberation Sans', sans-serif">,</tspan>
       <tspan x="23.308" y="-0.585" style="font-size: 6px; font-family: 'DejaVu Sans', 'Liberation Sans', sans-serif"> </tspan>
       <tspan x="31.870" y="-0.585" style="font-size: 6px; font-family: 'DejaVu Sans', 'Liberation Sans', sans-serif"> </tspan>
       <tspan x="33.778" y="-0.585" style="font-size: 6px; font-family: 'DejaVu Sans', 'Liberation Sans', sans-serif">=</tspan>
       <tspan x="38.805" y="-0.585" style="font-size: 6px; font-family: 'DejaVu Sans', 'Liberation Sans', sans-serif"> </tspan>
       <tspan x="40.712" y="-0.585" style="font-size: 6px; font-family: 'DejaVu Sans', 'Liberation Sans', sans-serif">3</tspan>
       <tspan x="44.529" y="-0.585" style="font-size: 6px; font-family: 'DejaVu Sans', 'Liberation Sans', sans-serif">4</tspan>
       <tspan x="48.347" y="-0.585" style="font-size: 6px; font-family: 'DejaVu Sans', 'Liberation Sans', sans-serif">,</tspan>
       <tspan x="50.254" y="-0.585" style="font-size: 6px; font-family: 'DejaVu Sans', 'Liberation Sans', sans-serif"> </tspan>
       <tspan x="55.964" y="-0.585" style="font-size: 6px; font-family: 'DejaVu Sans', 'Liberation Sans', sans-serif"> </tspan>
       <tspan x="57.871" y="-0.585" style="font-size: 6px; font-family: 'DejaVu Sans', 'Liberation Sans', sans-serif">=</tspan>
       <tspan x="62.899" y="-0.585" style="font-size: 6px; font-family: 'DejaVu Sans', 'Liberation Sans', sans-serif"> </tspan>
       <tspan x="64.806" y="-0.585" style="font-size: 6px; font-family: 'DejaVu Sans', 'Liberation Sans', sans-serif">2</tspan>
       <tspan x="68.623" y="-0.585" style="font-size: 6px; font-family: 'DejaVu Sans', 'Liberation Sans', sans-serif">.</tspan>
       <tspan x="70.530" y="-0.585" style="font-size: 6px; font-family: 'DejaVu Sans', 'Liberation Sans', sans-serif">5</tspan>
       <tspan x="25.215" y="-0.585" style="font-style: oblique; font-size: 6px; font-family: 'DejaVu Sans', 'Liberation Sans', sans-serif">χ</tspan>
       <tspan x="52.161" y="-0.585" style="font-style: oblique; font-size: 6px; font-family: 'DejaVu Sans', 'Liberation Sans', sans-serif">σ</tspan>
       <tspan x="29.034" y="-2.882" style="font-size: 4.2px; font-family: 'DejaVu Sans', 'Liberation Sans', sans-serif">2</tspan>
      </text>
     </g>
    </g>
    <g id="line2d_21">
     <path d="M 44.75 46.83
L 50.75 46.83
L 56.75 46.83
" style="fill: none; stroke: #a3a3ac; stroke-opacity: 0.6; stroke-width: 1.5; stroke-linecap: square"/>
    </g>
    <g id="text_19">
     <!-- 1.0 bar, $\chi^2$ = 51, $\sigma$ = 4.2 -->
     <g transform="translate(61.19 48.93) scale(0.993 1)">
      <text>
       <tspan x="0" y="-0.585" style="font-size: 6px; font-family: 'DejaVu Sans', 'Liberation Sans', sans-serif">1</tspan>
       <tspan x="3.817" y="-0.585" style="font-size: 6px; font-family: 'DejaVu Sans', 'Liberation Sans', sans-serif">.</tspan>
       <tspan x="5.724" y="-0.585" style="font-size: 6px; font-family: 'DejaVu Sans', 'Liberation Sans', sans-serif">0</tspan>
       <tspan x="9.541" y="-0.585" style="font-size: 6px; font-family: 'DejaVu Sans', 'Liberation Sans', sans-serif"> </tspan>
       <tspan x="11.449" y="-0.585" style="font-size: 6px; font-family: 'DejaVu Sans', 'Liberation Sans', sans-serif">b</tspan>
       <tspan x="15.257" y="-0.585" style="font-size: 6px; font-family: 'DejaVu Sans', 'Liberation Sans', sans-serif">a</tspan>
       <tspan x="18.934" y="-0.585" style="font-size: 6px; font-family: 'DejaVu Sans', 'Liberation Sans', sans-serif">r</tspan>
       <tspan x="21.401" y="-0.585" style="font-size: 6px; font-family: 'DejaVu Sans', 'Liberation Sans', sans-serif">,</tspan>
       <tspan x="23.308" y="-0.585" style="font-size: 6px; font-family: 'DejaVu Sans', 'Liberation Sans', sans-serif"> </tspan>
       <tspan x="31.870" y="-0.585" style="font-size: 6px; font-family: 'DejaVu Sans', 'Liberation Sans', sans-serif"> </tspan>
       <tspan x="33.778" y="-0.585" style="font-size: 6px; font-family: 'DejaVu Sans', 'Liberation Sans', sans-serif">=</tspan>
       <tspan x="38.805" y="-0.585" style="font-size: 6px; font-family: 'DejaVu Sans', 'Liberation Sans', sans-serif"> </tspan>
       <tspan x="40.712" y="-0.585" style="font-size: 6px; font-family: 'DejaVu Sans', 'Liberation Sans', sans-serif">5</tspan>
       <tspan x="44.529" y="-0.585" style="font-size: 6px; font-family: 'DejaVu Sans', 'Liberation Sans', sans-serif">1</tspan>
       <tspan x="48.347" y="-0.585" style="font-size: 6px; font-family: 'DejaVu Sans', 'Liberation Sans', sans-serif">,</tspan>
       <tspan x="50.254" y="-0.585" style="font-size: 6px; font-family: 'DejaVu Sans', 'Liberation Sans', sans-serif"> </tspan>
       <tspan x="55.964" y="-0.585" style="font-size: 6px; font-family: 'DejaVu Sans', 'Liberation Sans', sans-serif"> </tspan>
       <tspan x="57.871" y="-0.585" style="font-size: 6px; font-family: 'DejaVu Sans', 'Liberation Sans', sans-serif">=</tspan>
       <tspan x="62.899" y="-0.585" style="font-size: 6px; font-family: 'DejaVu Sans', 'Liberation Sans', sans-serif"> </tspan>
       <tspan x="64.806" y="-0.585" style="font-size: 6px; font-family: 'DejaVu Sans', 'Liberation Sans', sans-serif">4</tspan>
       <tspan x="68.623" y="-0.585" style="font-size: 6px; font-family: 'DejaVu Sans', 'Liberation Sans', sans-serif">.</tspan>
       <tspan x="70.155" y="-0.585" style="font-size: 6px; font-family: 'DejaVu Sans', 'Liberation Sans', sans-serif">2</tspan>
       <tspan x="25.215" y="-0.585" style="font-style: oblique; font-size: 6px; font-family: 'DejaVu Sans', 'Liberation Sans', sans-serif">χ</tspan>
       <tspan x="52.161" y="-0.585" style="font-style: oblique; font-size: 6px; font-family: 'DejaVu Sans', 'Liberation Sans', sans-serif">σ</tspan>
       <tspan x="29.034" y="-2.882" style="font-size: 4.2px; font-family: 'DejaVu Sans', 'Liberation Sans', sans-serif">2</tspan>
      </text>
     </g>
    </g>
    <g id="line2d_22">
     <path d="M 44.75 57.69
L 50.75 57.69
L 56.75 57.69
" style="fill: none; stroke: #acc5ac; stroke-opacity: 0.6; stroke-width: 1.5; stroke-linecap: square"/>
    </g>
    <g id="text_20">
     <!-- 10.0 bar, $\chi^2$ = 85, $\sigma$ = 6.6 -->
     <g transform="translate(61.19 59.79) scale(0.993 1)">
      <text>
       <tspan x="0" y="-0.585" style="font-size: 6px; font-family: 'DejaVu Sans', 'Liberation Sans', sans-serif">1</tspan>
       <tspan x="3.817" y="-0.585" style="font-size: 6px; font-family: 'DejaVu Sans', 'Liberation Sans', sans-serif">0</tspan>
       <tspan x="7.634" y="-0.585" style="font-size: 6px; font-family: 'DejaVu Sans', 'Liberation Sans', sans-serif">.</tspan>
       <tspan x="9.541" y="-0.585" style="font-size: 6px; font-family: 'DejaVu Sans', 'Liberation Sans', sans-serif">0</tspan>
       <tspan x="13.359" y="-0.585" style="font-size: 6px; font-family: 'DejaVu Sans', 'Liberation Sans', sans-serif"> </tspan>
       <tspan x="15.266" y="-0.585" style="font-size: 6px; font-family: 'DejaVu Sans', 'Liberation Sans', sans-serif">b</tspan>
       <tspan x="19.075" y="-0.585" style="font-size: 6px; font-family: 'DejaVu Sans', 'Liberation Sans', sans-serif">a</tspan>
       <tspan x="22.751" y="-0.585" style="font-size: 6px; font-family: 'DejaVu Sans', 'Liberation Sans', sans-serif">r</tspan>
       <tspan x="25.218" y="-0.585" style="font-size: 6px; font-family: 'DejaVu Sans', 'Liberation Sans', sans-serif">,</tspan>
       <tspan x="27.125" y="-0.585" style="font-size: 6px; font-family: 'DejaVu Sans', 'Liberation Sans', sans-serif"> </tspan>
       <tspan x="35.688" y="-0.585" style="font-size: 6px; font-family: 'DejaVu Sans', 'Liberation Sans', sans-serif"> </tspan>
       <tspan x="37.595" y="-0.585" style="font-size: 6px; font-family: 'DejaVu Sans', 'Liberation Sans', sans-serif">=</tspan>
       <tspan x="42.622" y="-0.585" style="font-size: 6px; font-family: 'DejaVu Sans', 'Liberation Sans', sans-serif"> </tspan>
       <tspan x="44.529" y="-0.585" style="font-size: 6px; font-family: 'DejaVu Sans', 'Liberation Sans', sans-serif">8</tspan>
       <tspan x="48.347" y="-0.585" style="font-size: 6px; font-family: 'DejaVu Sans', 'Liberation Sans', sans-serif">5</tspan>
       <tspan x="52.164" y="-0.585" style="font-size: 6px; font-family: 'DejaVu Sans', 'Liberation Sans', sans-serif">,</tspan>
       <tspan x="54.071" y="-0.585" style="font-size: 6px; font-family: 'DejaVu Sans', 'Liberation Sans', sans-serif"> </tspan>
       <tspan x="59.781" y="-0.585" style="font-size: 6px; font-family: 'DejaVu Sans', 'Liberation Sans', sans-serif"> </tspan>
       <tspan x="61.689" y="-0.585" style="font-size: 6px; font-family: 'DejaVu Sans', 'Liberation Sans', sans-serif">=</tspan>
       <tspan x="66.716" y="-0.585" style="font-size: 6px; font-family: 'DejaVu Sans', 'Liberation Sans', sans-serif"> </tspan>
       <tspan x="68.623" y="-0.585" style="font-size: 6px; font-family: 'DejaVu Sans', 'Liberation Sans', sans-serif">6</tspan>
       <tspan x="72.441" y="-0.585" style="font-size: 6px; font-family: 'DejaVu Sans', 'Liberation Sans', sans-serif">.</tspan>
       <tspan x="74.348" y="-0.585" style="font-size: 6px; font-family: 'DejaVu Sans', 'Liberation Sans', sans-serif">6</tspan>
       <tspan x="29.033" y="-0.585" style="font-style: oblique; font-size: 6px; font-family: 'DejaVu Sans', 'Liberation Sans', sans-serif">χ</tspan>
       <tspan x="55.979" y="-0.585" style="font-style: oblique; font-size: 6px; font-family: 'DejaVu Sans', 'Liberation Sans', sans-serif">σ</tspan>
       <tspan x="32.851" y="-2.882" style="font-size: 4.2px; font-family: 'DejaVu Sans', 'Liberation Sans', sans-serif">2</tspan>
      </text>
     </g>
    </g>
    <g id="line2d_23">
     <path d="M 44.75 68.55
L 50.75 68.55
L 56.75 68.55
" style="fill: none; stroke: #cde6cd; stroke-opacity: 0.6; stroke-width: 1.5; stroke-linecap: square"/>
    </g>
    <g id="text_21">
     <!-- 100.0 bar, $\chi^2$ = 89, $\sigma$ = 6.8 -->
     <g transform="translate(61.19 70.65) scale(0.993 1)">
      <text>
       <tspan x="0" y="-0.585" style="font-size: 6px; font-family: 'DejaVu Sans', 'Liberation Sans', sans-serif">1</tspan>
       <tspan x="3.817" y="-0.585" style="font-size: 6px; font-family: 'DejaVu Sans', 'Liberation Sans', sans-serif">0</tspan>
       <tspan x="7.634" y="-0.585" style="font-size: 6px; font-family: 'DejaVu Sans', 'Liberation Sans', sans-serif">0</tspan>
       <tspan x="11.452" y="-0.585" style="font-size: 6px; font-family: 'DejaVu Sans', 'Liberation Sans', sans-serif">.</tspan>
       <tspan x="13.359" y="-0.585" style="font-size: 6px; font-family: 'DejaVu Sans', 'Liberation Sans', sans-serif">0</tspan>
       <tspan x="17.176" y="-0.585" style="font-size: 6px; font-family: 'DejaVu Sans', 'Liberation Sans', sans-serif"> </tspan>
       <tspan x="19.083" y="-0.585" style="font-size: 6px; font-family: 'DejaVu Sans', 'Liberation Sans', sans-serif">b</tspan>
       <tspan x="22.892" y="-0.585" style="font-size: 6px; font-family: 'DejaVu Sans', 'Liberation Sans', sans-serif">a</tspan>
       <tspan x="26.569" y="-0.585" style="font-size: 6px; font-family: 'DejaVu Sans', 'Liberation Sans', sans-serif">r</tspan>
       <tspan x="29.036" y="-0.585" style="font-size: 6px; font-family: 'DejaVu Sans', 'Liberation Sans', sans-serif">,</tspan>
       <tspan x="30.943" y="-0.585" style="font-size: 6px; font-family: 'DejaVu Sans', 'Liberation Sans', sans-serif"> </tspan>
       <tspan x="39.505" y="-0.585" style="font-size: 6px; font-family: 'DejaVu Sans', 'Liberation Sans', sans-serif"> </tspan>
       <tspan x="41.412" y="-0.585" style="font-size: 6px; font-family: 'DejaVu Sans', 'Liberation Sans', sans-serif">=</tspan>
       <tspan x="46.440" y="-0.585" style="font-size: 6px; font-family: 'DejaVu Sans', 'Liberation Sans', sans-serif"> </tspan>
       <tspan x="48.347" y="-0.585" style="font-size: 6px; font-family: 'DejaVu Sans', 'Liberation Sans', sans-serif">8</tspan>
       <tspan x="52.164" y="-0.585" style="font-size: 6px; font-family: 'DejaVu Sans', 'Liberation Sans', sans-serif">9</tspan>
       <tspan x="55.982" y="-0.585" style="font-size: 6px; font-family: 'DejaVu Sans', 'Liberation Sans', sans-serif">,</tspan>
       <tspan x="57.889" y="-0.585" style="font-size: 6px; font-family: 'DejaVu Sans', 'Liberation Sans', sans-serif"> </tspan>
       <tspan x="63.599" y="-0.585" style="font-size: 6px; font-family: 'DejaVu Sans', 'Liberation Sans', sans-serif"> </tspan>
       <tspan x="65.506" y="-0.585" style="font-size: 6px; font-family: 'DejaVu Sans', 'Liberation Sans', sans-serif">=</tspan>
       <tspan x="70.533" y="-0.585" style="font-size: 6px; font-family: 'DejaVu Sans', 'Liberation Sans', sans-serif"> </tspan>
       <tspan x="72.441" y="-0.585" style="font-size: 6px; font-family: 'DejaVu Sans', 'Liberation Sans', sans-serif">6</tspan>
       <tspan x="76.258" y="-0.585" style="font-size: 6px; font-family: 'DejaVu Sans', 'Liberation Sans', sans-serif">.</tspan>
       <tspan x="78.040" y="-0.585" style="font-size: 6px; font-family: 'DejaVu Sans', 'Liberation Sans', sans-serif">8</tspan>
       <tspan x="32.850" y="-0.585" style="font-style: oblique; font-size: 6px; font-family: 'DejaVu Sans', 'Liberation Sans', sans-serif">χ</tspan>
       <tspan x="59.796" y="-0.585" style="font-style: oblique; font-size: 6px; font-family: 'DejaVu Sans', 'Liberation Sans', sans-serif">σ</tspan>
       <tspan x="36.669" y="-2.882" style="font-size: 4.2px; font-family: 'DejaVu Sans', 'Liberation Sans', sans-serif">2</tspan>
      </text>
     </g>
    </g>
   </g>
  </g>
  <g id="axes_2">
   <g id="patch_7">
    <path d="M 274.325 176.5
L 499.975 176.5
L 499.975 15.85
L 274.325 15.85
z
" style="fill: #ffffff"/>
   </g>
   <g class="band">
    <defs>
     <path id="m6d5d9d89db" d="M 281.723 -56.548
L 281.723 -54.030
L 286.026 -55.089
L 290.329 -56.155
L 294.632 -57.194
L 298.935 -58.240
L 303.239 -59.431
L 307.542 -60.629
L 311.845 -61.621
L 316.148 -62.618
L 320.451 -63.867
L 324.754 -65.122
L 329.057 -66.561
L 333.360 -68.509
L 337.664 -71.546
L 341.967 -74.165
L 346.270 -75.745
L 350.573 -77.331
L 354.876 -78.702
L 359.179 -80.077
L 363.482 -81.675
L 367.785 -83.278
L 372.089 -84.921
L 376.392 -86.310
L 380.695 -87.702
L 384.998 -89.355
L 389.301 -91.012
L 393.604 -93.156
L 397.907 -95.305
L 402.210 -97.197
L 406.514 -99.092
L 410.817 -100.430
L 415.120 -101.768
L 419.423 -103.522
L 423.726 -104.487
L 428.029 -105.452
L 432.332 -106.795
L 436.635 -108.139
L 440.939 -109.825
L 445.242 -111.133
L 449.545 -112.898
L 453.848 -114.209
L 458.151 -115.901
L 462.454 -118.205
L 466.757 -119.214
L 471.060 -120.988
L 475.364 -122.304
L 479.667 -123.773
L 483.970 -125.320
L 488.273 -127.560
L 492.576 -127.572
L 492.576 -130.090
L 492.576 -130.090
L 488.273 -130.078
L 483.970 -127.839
L 479.667 -126.292
L 475.364 -124.822
L 471.060 -123.506
L 466.757 -121.733
L 462.454 -120.724
L 458.151 -118.420
L 453.848 -116.727
L 449.545 -115.417
L 445.242 -113.652
L 440.939 -112.343
L 436.635 -110.657
L 432.332 -109.313
L 428.029 -107.970
L 423.726 -107.005
L 419.423 -106.040
L 415.120 -104.287
L 410.817 -102.948
L 406.514 -101.611
L 402.210 -99.715
L 397.907 -97.823
L 393.604 -95.674
L 389.301 -93.530
L 384.998 -91.873
L 380.695 -90.220
L 376.392 -88.828
L 372.089 -87.439
L 367.785 -85.796
L 363.482 -84.194
L 359.179 -82.596
L 354.876 -81.221
L 350.573 -79.849
L 346.270 -78.264
L 341.967 -76.684
L 337.664 -74.065
L 333.360 -71.028
L 329.057 -69.080
L 324.754 -67.640
L 320.451 -66.385
L 316.148 -65.136
L 311.845 -64.139
L 307.542 -63.147
L 303.239 -61.949
L 298.935 -60.758
L 294.632 -59.713
L 290.329 -58.674
L 286.026 -57.607
L 281.723 -56.548
z
" style="stroke: #1f77b4"/>
    </defs>
    <g clip-path="url(#p7d2628ff80)">
     <use href="#m6d5d9d89db" x="0" y="206.75" style="fill: #1f77b4; stroke: #1f77b4; opacity: 0.35"/>
    </g>
   </g>
   <g class="band">
    <defs>
     <path id="m4aab1ed2cb" d="M 281.723 -60.913
L 281.723 -56.204
L 286.026 -57.448
L 290.329 -58.692
L 294.632 -59.894
L 298.935 -61.095
L 303.239 -62.467
L 307.542 -63.840
L 311.845 -64.955
L 316.148 -66.071
L 320.451 -67.486
L 324.754 -68.902
L 329.057 -70.532
L 333.360 -72.763
L 337.664 -76.281
L 341.967 -79.283
L 346.270 -81.042
L 350.573 -82.801
L 354.876 -84.302
L 359.179 -85.804
L 363.482 -87.563
L 367.785 -89.321
L 372.089 -91.123
L 376.392 -92.625
L 380.695 -94.126
L 384.998 -95.928
L 389.301 -97.729
L 393.604 -100.089
L 397.907 -102.448
L 402.210 -104.507
L 406.514 -106.566
L 410.817 -107.982
L 415.120 -109.398
L 419.423 -111.285
L 423.726 -112.272
L 428.029 -113.258
L 432.332 -114.674
L 436.635 -116.090
L 440.939 -117.891
L 445.242 -119.264
L 449.545 -121.152
L 453.848 -122.524
L 458.151 -124.326
L 462.454 -126.814
L 466.757 -127.844
L 471.060 -129.731
L 475.364 -131.104
L 479.667 -132.648
L 483.970 -134.278
L 488.273 -136.681
L 492.576 -136.595
L 492.576 -143.256
L 492.576 -143.256
L 488.273 -143.344
L 483.970 -140.884
L 479.667 -139.214
L 475.364 -137.632
L 471.060 -136.226
L 466.757 -134.293
L 462.454 -133.238
L 458.151 -130.690
L 453.848 -128.844
L 449.545 -127.438
L 445.242 -125.505
L 440.939 -124.099
L 436.635 -122.253
L 432.332 -120.803
L 428.029 -119.353
L 423.726 -118.342
L 419.423 -117.332
L 415.120 -115.399
L 410.817 -113.948
L 406.514 -112.498
L 402.210 -110.389
L 397.907 -108.280
L 393.604 -105.864
L 389.301 -103.447
L 384.998 -101.601
L 380.695 -99.756
L 376.392 -98.218
L 372.089 -96.680
L 367.785 -94.835
L 363.482 -93.033
L 359.179 -91.232
L 354.876 -89.694
L 350.573 -88.156
L 346.270 -86.354
L 341.967 -84.553
L 337.664 -81.477
L 333.360 -77.874
L 329.057 -75.589
L 324.754 -73.919
L 320.451 -72.469
L 316.148 -71.019
L 311.845 -69.877
L 307.542 -68.734
L 303.239 -67.328
L 298.935 -65.922
L 294.632 -64.692
L 290.329 -63.461
L 286.026 -62.187
L 281.723 -60.913
z
" style="stroke: #af2d37"/>
    </defs>
    <g clip-path="url(#p7d2628ff80)">
     <use href="#m4aab1ed2cb" x="0" y="206.75" style="fill: #af2d37; stroke: #af2d37; opacity: 0.45"/>
    </g>
   </g>
   <g class="band">
    <defs>
     <path id="m26906d9d9a" d="M 281.723 -47.614
L 281.723 -45.962
L 286.026 -46.369
L 290.329 -46.792
L 294.632 -47.220
L 298.935 -47.664
L 303.239 -48.168
L 307.542 -48.689
L 311.845 -49.155
L 316.148 -49.634
L 320.451 -50.211
L 324.754 -50.804
L 329.057 -51.478
L 333.360 -52.354
L 337.664 -53.662
L 341.967 -54.843
L 346.270 -55.648
L 350.573 -56.468
L 354.876 -57.217
L 359.179 -57.978
L 363.482 -58.842
L 367.785 -59.719
L 372.089 -60.626
L 376.392 -61.437
L 380.695 -62.258
L 384.998 -63.202
L 389.301 -64.158
L 393.604 -65.343
L 397.907 -66.544
L 402.210 -67.643
L 406.514 -68.755
L 410.817 -69.619
L 415.120 -70.490
L 419.423 -71.563
L 423.726 -72.269
L 428.029 -72.978
L 432.332 -73.873
L 436.635 -74.772
L 440.939 -75.845
L 445.242 -76.739
L 449.545 -77.864
L 453.848 -78.769
L 458.151 -79.870
L 462.454 -81.289
L 466.757 -82.056
L 471.060 -83.217
L 475.364 -84.149
L 479.667 -85.163
L 483.970 -86.222
L 488.273 -87.651
L 492.576 -87.907
L 492.576 -91.710
L 492.576 -91.710
L 488.273 -91.441
L 483.970 -89.939
L 479.667 -88.825
L 475.364 -87.759
L 471.060 -86.780
L 466.757 -85.559
L 462.454 -84.753
L 458.151 -83.261
L 453.848 -82.103
L 449.545 -81.152
L 445.242 -79.969
L 440.939 -79.030
L 436.635 -77.902
L 432.332 -76.956
L 428.029 -76.016
L 423.726 -75.270
L 419.423 -74.527
L 415.120 -73.400
L 410.817 -72.484
L 406.514 -71.576
L 402.210 -70.406
L 397.907 -69.251
L 393.604 -67.988
L 389.301 -66.743
L 384.998 -65.738
L 380.695 -64.745
L 376.392 -63.882
L 372.089 -63.030
L 367.785 -62.077
L 363.482 -61.154
L 359.179 -60.246
L 354.876 -59.446
L 350.573 -58.659
L 346.270 -57.796
L 341.967 -56.951
L 337.664 -55.709
L 333.360 -54.334
L 329.057 -53.412
L 324.754 -52.705
L 320.451 -52.081
L 316.148 -51.474
L 311.845 -50.971
L 307.542 -50.481
L 303.239 -49.933
L 298.935 -49.403
L 294.632 -48.937
L 290.329 -48.486
L 286.026 -48.041
L 281.723 -47.614
z
" style="stroke: #af2d37"/>
    </defs>
    <g clip-path="url(#p7d2628ff80)">
     <use href="#m26906d9d9a" x="0" y="206.75" style="fill: #af2d37; stroke: #af2d37; opacity: 0.28"/>
    </g>
   </g>
   <g class="band">
    <defs>
     <path id="mfc4fe05d30" d="M 281.723 -43.890
L 281.723 -43.017
L 286.026 -43.051
L 290.329 -43.090
L 294.632 -43.133
L 298.935 -43.180
L 303.239 -43.235
L 307.542 -43.296
L 311.845 -43.356
L 316.148 -43.422
L 320.451 -43.500
L 324.754 -43.584
L 329.057 -43.681
L 333.360 -43.804
L 337.664 -43.978
L 341.967 -44.150
L 346.270 -44.290
L 350.573 -44.438
L 354.876 -44.585
L 359.179 -44.740
L 363.482 -44.914
L 367.785 -45.097
L 372.089 -45.291
L 376.392 -45.480
L 380.695 -45.676
L 384.998 -45.897
L 389.301 -46.127
L 393.604 -46.401
L 397.907 -46.686
L 402.210 -46.964
L 406.514 -47.253
L 410.817 -47.507
L 415.120 -47.769
L 419.423 -48.073
L 423.726 -48.318
L 428.029 -48.568
L 432.332 -48.858
L 436.635 -49.155
L 440.939 -49.493
L 445.242 -49.801
L 449.545 -50.164
L 453.848 -50.487
L 458.151 -50.858
L 462.454 -51.306
L 466.757 -51.617
L 471.060 -52.023
L 475.364 -52.382
L 479.667 -52.766
L 483.970 -53.166
L 488.273 -53.661
L 492.576 -53.880
L 492.576 -55.016
L 492.576 -55.016
L 488.273 -54.793
L 483.970 -54.286
L 479.667 -53.875
L 475.364 -53.482
L 471.060 -53.114
L 466.757 -52.699
L 462.454 -52.380
L 458.151 -51.921
L 453.848 -51.541
L 449.545 -51.210
L 445.242 -50.839
L 440.939 -50.523
L 436.635 -50.177
L 432.332 -49.872
L 428.029 -49.575
L 423.726 -49.319
L 419.423 -49.068
L 415.120 -48.757
L 410.817 -48.489
L 406.514 -48.228
L 402.210 -47.933
L 397.907 -47.648
L 393.604 -47.356
L 389.301 -47.075
L 384.998 -46.839
L 380.695 -46.613
L 376.392 -46.412
L 372.089 -46.219
L 367.785 -46.020
L 363.482 -45.833
L 359.179 -45.654
L 354.876 -45.496
L 350.573 -45.345
L 346.270 -45.193
L 341.967 -45.050
L 337.664 -44.874
L 333.360 -44.696
L 329.057 -44.570
L 324.754 -44.471
L 320.451 -44.384
L 316.148 -44.304
L 311.845 -44.237
L 307.542 -44.175
L 303.239 -44.113
L 298.935 -44.057
L 294.632 -44.008
L 290.329 -43.965
L 286.026 -43.925
L 281.723 -43.890
z
" style="stroke: #af2d37"/>
    </defs>
    <g clip-path="url(#p7d2628ff80)">
     <use href="#mfc4fe05d30" x="0" y="206.75" style="fill: #af2d37; stroke: #af2d37; opacity: 0.16"/>
    </g>
   </g>
   <g class="band">
    <defs>
     <path id="md44ff1dec5" d="M 281.723 -43.275
L 281.723 -43.275
L 286.026 -43.275
L 290.329 -43.275
L 294.632 -43.275
L 298.935 -43.275
L 303.239 -43.275
L 307.542 -43.275
L 311.845 -43.275
L 316.148 -43.275
L 320.451 -43.275
L 324.754 -43.275
L 329.057 -43.275
L 333.360 -43.275
L 337.664 -43.275
L 341.967 -43.275
L 346.270 -43.275
L 350.573 -43.275
L 354.876 -43.275
L 359.179 -43.275
L 363.482 -43.275
L 367.785 -43.275
L 372.089 -43.275
L 376.392 -43.275
L 380.695 -43.275
L 384.998 -43.275
L 389.301 -43.275
L 393.604 -43.275
L 397.907 -43.275
L 402.210 -43.275
L 406.514 -43.275
L 410.817 -43.275
L 415.120 -43.275
L 419.423 -43.275
L 423.726 -43.275
L 428.029 -43.275
L 432.332 -43.275
L 436.635 -43.275
L 440.939 -43.275
L 445.242 -43.275
L 449.545 -43.275
L 453.848 -43.275
L 458.151 -43.275
L 462.454 -43.275
L 466.757 -43.275
L 471.060 -43.275
L 475.364 -43.275
L 479.667 -43.275
L 483.970 -43.275
L 488.273 -43.275
L 492.576 -43.275
L 492.576 -43.275
L 492.576 -43.275
L 488.273 -43.275
L 483.970 -43.275
L 479.667 -43.275
L 475.364 -43.275
L 471.060 -43.275
L 466.757 -43.275
L 462.454 -43.275
L 458.151 -43.275
L 453.848 -43.275
L 449.545 -43.275
L 445.242 -43.275
L 440.939 -43.275
L 436.635 -43.275
L 432.332 -43.275
L 428.029 -43.275
L 423.726 -43.275
L 419.423 -43.275
L 415.120 -43.275
L 410.817 -43.275
L 406.514 -43.275
L 402.210 -43.275
L 397.907 -43.275
L 393.604 -43.275
L 389.301 -43.275
L 384.998 -43.275
L 380.695 -43.275
L 376.392 -43.275
L 372.089 -43.275
L 367.785 -43.275
L 363.482 -43.275
L 359.179 -43.275
L 354.876 -43.275
L 350.573 -43.275
L 346.270 -43.275
L 341.967 -43.275
L 337.664 -43.275
L 333.360 -43.275
L 329.057 -43.275
L 324.754 -43.275
L 320.451 -43.275
L 316.148 -43.275
L 311.845 -43.275
L 307.542 -43.275
L 303.239 -43.275
L 298.935 -43.275
L 294.632 -43.275
L 290.329 -43.275
L 286.026 -43.275
L 281.723 -43.275
z
" style="stroke: #af2d37"/>
    </defs>
    <g clip-path="url(#p7d2628ff80)">
     <use href="#md44ff1dec5" x="0" y="206.75" style="fill: #af2d37; stroke: #af2d37; opacity: 0.12"/>
    </g>
   </g>
   <g id="matplotlib.axis_3">
    <g id="xtick_7">
     <g id="line2d_24">
      <g>
       <use href="#m1504cfccaf" x="281.723" y="176.5" style="stroke: #000000; stroke-width: 0.8"/>
      </g>
     </g>
     <g id="text_22">
      <text style="font-size: 10px; font-family: 'DejaVu Sans', 'Liberation Sans', sans-serif; text-anchor: middle" x="281.723" y="191.098" transform="rotate(-0 281.723 191.098)">5</text>
     </g>
    </g>
    <g id="xtick_8">
     <g id="line2d_25">
      <g>
       <use href="#m1504cfccaf" x="318.715" y="176.5" style="stroke: #000000; stroke-width: 0.8"/>
      </g>
     </g>
     <g id="text_23">
      <text style="font-size: 10px; font-family: 'DejaVu Sans', 'Liberation Sans', sans-serif; text-anchor: middle" x="318.715" y="191.098" transform="rotate(-0 318.715 191.098)">6</text>
     </g>
    </g>
    <g id="xtick_9">
     <g id="line2d_26">
      <g>
       <use href="#m1504cfccaf" x="355.706" y="176.5" style="stroke: #000000; stroke-width: 0.8"/>
      </g>
     </g>
     <g id="text_24">
      <text style="font-size: 10px; font-family: 'DejaVu Sans', 'Liberation Sans', sans-serif; text-anchor: middle" x="355.706" y="191.098" transform="rotate(-0 355.706 191.098)">7</text>
     </g>
    </g>
    <g id="xtick_10">
     <g id="line2d_27">
      <g>
       <use href="#m1504cfccaf" x="392.698" y="176.5" style="stroke: #000000; stroke-width: 0.8"/>
      </g>
     </g>
     <g id="text_25">
      <text style="font-size: 10px; font-family: 'DejaVu Sans', 'Liberation Sans', sans-serif; text-anchor: middle" x="392.698" y="191.098" transform="rotate(-0 392.698 191.098)">8</text>
     </g>
    </g>
    <g id="xtick_11">
     <g id="line2d_28">
      <g>
       <use href="#m1504cfccaf" x="429.690" y="176.5" style="stroke: #000000; stroke-width: 0.8"/>
      </g>
     </g>
     <g id="text_26">
      <text style="font-size: 10px; font-family: 'DejaVu Sans', 'Liberation Sans', sans-serif; text-anchor: middle" x="429.690" y="191.098" transform="rotate(-0 429.690 191.098)">9</text>
     </g>
    </g>
    <g id="xtick_12">
     <g id="line2d_29">
      <g>
       <use href="#m1504cfccaf" x="466.682" y="176.5" style="stroke: #000000; stroke-width: 0.8"/>
      </g>
     </g>
     <g id="text_27">
      <text style="font-size: 10px; font-family: 'DejaVu Sans', 'Liberation Sans', sans-serif; text-anchor: middle" x="466.682" y="191.098" transform="rotate(-0 466.682 191.098)">10</text>
     </g>
    </g>
    <g id="text_28">
     <!-- Wavelength ($\mu$m) -->
     <g transform="translate(343.755 204.778) scale(0.984 1)">
      <text>
       <tspan x="0" y="-0.406" style="font-size: 10px; font-family: 'DejaVu Sans', 'Liberation Sans', sans-serif">W</tspan>
       <tspan x="9.887" y="-0.406" style="font-size: 10px; font-family: 'DejaVu Sans', 'Liberation Sans', sans-serif">a</tspan>
       <tspan x="16.015" y="-0.406" style="font-size: 10px; font-family: 'DejaVu Sans', 'Liberation Sans', sans-serif">v</tspan>
       <tspan x="21.933" y="-0.406" style="font-size: 10px; font-family: 'DejaVu Sans', 'Liberation Sans', sans-serif">e</tspan>
       <tspan x="28.085" y="-0.406" style="font-size: 10px; font-family: 'DejaVu Sans', 'Liberation Sans', sans-serif">l</tspan>
       <tspan x="30.864" y="-0.406" style="font-size: 10px; font-family: 'DejaVu Sans', 'Liberation Sans', sans-serif">e</tspan>
       <tspan x="37.016" y="-0.406" style="font-size: 10px; font-family: 'DejaVu Sans', 'Liberation Sans', sans-serif">n</tspan>
       <tspan x="43.354" y="-0.406" style="font-size: 10px; font-family: 'DejaVu Sans', 'Liberation Sans', sans-serif">g</tspan>
       <tspan x="49.702" y="-0.406" style="font-size: 10px; font-family: 'DejaVu Sans', 'Liberation Sans', sans-serif">t</tspan>
       <tspan x="53.623" y="-0.406" style="font-size: 10px; font-family: 'DejaVu Sans', 'Liberation Sans', sans-serif">h</tspan>
       <tspan x="59.960" y="-0.406" style="font-size: 10px; font-family: 'DejaVu Sans', 'Liberation Sans', sans-serif"> </tspan>
       <tspan x="63.139" y="-0.406" style="font-size: 10px; font-family: 'DejaVu Sans', 'Liberation Sans', sans-serif">(</tspan>
       <tspan x="73.403" y="-0.406" style="font-size: 10px; font-family: 'DejaVu Sans', 'Liberation Sans', sans-serif">m</tspan>
       <tspan x="83.144" y="-0.406" style="font-size: 10px; font-family: 'DejaVu Sans', 'Liberation Sans', sans-serif">)</tspan>
       <tspan x="67.041" y="-0.406" style="font-style: oblique; font-size: 10px; font-family: 'DejaVu Sans', 'Liberation Sans', sans-serif">μ</tspan>
      </text>
     </g>
    </g>
   </g>
   <g id="matplotlib.axis_4">
    <g id="ytick_8">
     <g id="line2d_30">
      <g>
       <use href="#m5d545ce8f8" x="274.325" y="163.474" style="stroke: #000000; stroke-width: 0.8"/>
      </g>
     </g>
    </g>
    <g id="ytick_9">
     <g id="line2d_31">
      <g>
       <use href="#m5d545ce8f8" x="274.325" y="141.764" style="stroke: #000000; stroke-width: 0.8"/>
      </g>
     </g>
    </g>
    <g id="ytick_10">
     <g id="line2d_32">
      <g>
       <use href="#m5d545ce8f8" x="274.325" y="120.055" style="stroke: #000000; stroke-width: 0.8"/>
      </g>
     </g>
    </g>
    <g id="ytick_11">
     <g id="line2d_33">
      <g>
       <use href="#m5d545ce8f8" x="274.325" y="98.345" style="stroke: #000000; stroke-width: 0.8"/>
      </g>
     </g>
    </g>
    <g id="ytick_12">
     <g id="line2d_34">
      <g>
       <use href="#m5d545ce8f8" x="274.325" y="76.636" style="stroke: #000000; stroke-width: 0.8"/>
      </g>
     </g>
    </g>
    <g id="ytick_13">
     <g id="line2d_35">
      <g>
       <use href="#m5d545ce8f8" x="274.325" y="54.927" style="stroke: #000000; stroke-width: 0.8"/>
      </g>
     </g>
    </g>
    <g id="ytick_14">
     <g id="line2d_36">
      <g>
       <use href="#m5d545ce8f8" x="274.325" y="33.217" style="stroke: #000000; stroke-width: 0.8"/>
      </g>
     </g>
    </g>
   </g>
   <g id="line2d_37">
    <path d="M 281.723 151.460
L 286.026 150.401
L 290.329 149.334
L 294.632 148.295
L 298.935 147.250
L 303.239 146.059
L 307.542 144.861
L 311.845 143.869
L 316.148 142.872
L 320.451 141.623
L 324.754 140.368
L 329.057 138.929
L 333.360 136.981
L 337.664 133.943
L 341.967 131.324
L 346.270 129.744
L 350.573 128.159
L 354.876 126.788
L 359.179 125.413
L 363.482 123.814
L 367.785 122.212
L 372.089 120.569
L 376.392 119.180
L 380.695 117.788
L 384.998 116.135
L 389.301 114.478
L 393.604 112.334
L 397.907 110.185
L 402.210 108.293
L 406.514 106.397
L 410.817 105.060
L 415.120 103.722
L 419.423 101.968
L 423.726 101.003
L 428.029 100.038
L 432.332 98.695
L 436.635 97.351
L 440.939 95.665
L 445.242 94.357
L 449.545 92.591
L 453.848 91.281
L 458.151 89.588
L 462.454 87.284
L 466.757 86.275
L 471.060 84.502
L 475.364 83.186
L 479.667 81.717
L 483.970 80.169
L 488.273 77.930
L 492.576 77.918
" clip-path="url(#p7d2628ff80)" style="fill: none; stroke-dasharray: 5.479,2.37; stroke-dashoffset: 0; stroke: #1f77b4; stroke-width: 1.5"/>
   </g>
   <g id="line2d_38">
    <path d="M 281.723 148.190
L 286.026 146.931
L 290.329 145.672
L 294.632 144.456
L 298.935 143.241
L 303.239 141.851
L 307.542 140.462
L 311.845 139.333
L 316.148 138.204
L 320.451 136.771
L 324.754 135.338
L 329.057 133.688
L 333.360 131.431
L 337.664 127.870
L 341.967 124.831
L 346.270 123.051
L 350.573 121.271
L 354.876 119.751
L 359.179 118.231
L 363.482 116.451
L 367.785 114.671
L 372.089 112.847
L 376.392 111.328
L 380.695 109.808
L 384.998 107.984
L 389.301 106.161
L 393.604 103.773
L 397.907 101.385
L 402.210 99.301
L 406.514 97.217
L 410.817 95.784
L 415.120 94.351
L 419.423 92.440
L 423.726 91.442
L 428.029 90.443
L 432.332 89.010
L 436.635 87.578
L 440.939 85.754
L 445.242 84.365
L 449.545 82.454
L 453.848 81.065
L 458.151 79.241
L 462.454 76.723
L 466.757 75.681
L 471.060 73.770
L 475.364 72.381
L 479.667 70.818
L 483.970 69.168
L 488.273 66.736
L 492.576 66.823
" clip-path="url(#p7d2628ff80)" style="fill: none; stroke-dasharray: 5.479,2.37; stroke-dashoffset: 0; stroke: #af2d37; stroke-opacity: 0.66; stroke-width: 1.5"/>
   </g>
   <g id="line2d_39">
    <path d="M 281.723 159.961
L 286.026 159.544
L 290.329 159.110
L 294.632 158.671
L 298.935 158.215
L 303.239 157.698
L 307.542 157.164
L 311.845 156.686
L 316.148 156.195
L 320.451 155.603
L 324.754 154.995
L 329.057 154.304
L 333.360 153.405
L 337.664 152.063
L 341.967 150.852
L 346.270 150.027
L 350.573 149.185
L 354.876 148.417
L 359.179 147.637
L 363.482 146.751
L 367.785 145.851
L 372.089 144.921
L 376.392 144.089
L 380.695 143.247
L 384.998 142.279
L 389.301 141.298
L 393.604 140.083
L 397.907 138.851
L 402.210 137.724
L 406.514 136.584
L 410.817 135.697
L 415.120 134.804
L 419.423 133.704
L 423.726 132.979
L 428.029 132.252
L 432.332 131.335
L 436.635 130.412
L 440.939 129.312
L 445.242 128.395
L 449.545 127.241
L 453.848 126.313
L 458.151 125.184
L 462.454 123.728
L 466.757 122.942
L 471.060 121.750
L 475.364 120.795
L 479.667 119.755
L 483.970 118.668
L 488.273 117.203
L 492.576 116.940
" clip-path="url(#p7d2628ff80)" style="fill: none; stroke-dasharray: 5.479,2.37; stroke-dashoffset: 0; stroke: #af2d37; stroke-opacity: 0.36; stroke-width: 1.5"/>
   </g>
   <g id="line2d_40">
    <path d="M 281.723 163.296
L 286.026 163.261
L 290.329 163.221
L 294.632 163.178
L 298.935 163.131
L 303.239 163.075
L 307.542 163.014
L 311.845 162.953
L 316.148 162.886
L 320.451 162.807
L 324.754 162.722
L 329.057 162.623
L 333.360 162.499
L 337.664 162.323
L 341.967 162.149
L 346.270 162.008
L 350.573 161.857
L 354.876 161.709
L 359.179 161.552
L 363.482 161.376
L 367.785 161.190
L 372.089 160.994
L 376.392 160.803
L 380.695 160.604
L 384.998 160.381
L 389.301 160.148
L 393.604 159.871
L 397.907 159.582
L 402.210 159.301
L 406.514 159.009
L 410.817 158.751
L 415.120 158.486
L 419.423 158.178
L 423.726 157.931
L 428.029 157.678
L 432.332 157.384
L 436.635 157.083
L 440.939 156.741
L 445.242 156.429
L 449.545 156.062
L 453.848 155.735
L 458.151 155.359
L 462.454 154.906
L 466.757 154.591
L 471.060 154.181
L 475.364 153.817
L 479.667 153.428
L 483.970 153.023
L 488.273 152.522
L 492.576 152.301
" clip-path="url(#p7d2628ff80)" style="fill: none; stroke-dasharray: 5.479,2.37; stroke-dashoffset: 0; stroke: #af2d37; stroke-opacity: 0.28; stroke-width: 1.5"/>
   </g>
   <g id="line2d_41">
    <path d="M 281.723 163.474
L 286.026 163.474
L 290.329 163.474
L 294.632 163.474
L 298.935 163.474
L 303.239 163.474
L 307.542 163.474
L 311.845 163.474
L 316.148 163.474
L 320.451 163.474
L 324.754 163.474
L 329.057 163.474
L 333.360 163.474
L 337.664 163.474
L 341.967 163.474
L 346.270 163.474
L 350.573 163.474
L 354.876 163.474
L 359.179 163.474
L 363.482 163.474
L 367.785 163.474
L 372.089 163.474
L 376.392 163.474
L 380.695 163.474
L 384.998 163.474
L 389.301 163.474
L 393.604 163.474
L 397.907 163.474
L 402.210 163.474
L 406.514 163.474
L 410.817 163.474
L 415.120 163.474
L 419.423 163.474
L 423.726 163.474
L 428.029 163.474
L 432.332 163.474
L 436.635 163.474
L 440.939 163.474
L 445.242 163.474
L 449.545 163.474
L 453.848 163.474
L 458.151 163.474
L 462.454 163.474
L 466.757 163.474
L 471.060 163.474
L 475.364 163.474
L 479.667 163.474
L 483.970 163.474
L 488.273 163.474
L 492.576 163.474
" clip-path="url(#p7d2628ff80)" style="fill: none; stroke-dasharray: 5.479,2.37; stroke-dashoffset: 0; stroke: #af2d37; stroke-opacity: 0.24; stroke-width: 1.5"/>
   </g>
   <g id="patch_8">
    <path d="M 274.325 176.5
L 274.325 15.85
" style="fill: none; stroke: #000000; stroke-width: 0.8; stroke-linejoin: miter; stroke-linecap: square"/>
   </g>
   <g id="patch_9">
    <path d="M 499.975 176.5
L 499.975 15.85
" style="fill: none; stroke: #000000; stroke-width: 0.8; stroke-linejoin: miter; stroke-linecap: square"/>
   </g>
   <g id="patch_10">
    <path d="M 274.325 176.5
L 499.975 176.5
" style="fill: none; stroke: #000000; stroke-width: 0.8; stroke-linejoin: miter; stroke-linecap: square"/>
   </g>
   <g id="patch_11">
    <path d="M 274.325 15.85
L 499.975 15.85
" style="fill: none; stroke: #000000; stroke-width: 0.8; stroke-linejoin: miter; stroke-linecap: square"/>
   </g>
   <g id="text_29">
    <text style="font-size: 12px; font-family: 'DejaVu Sans', 'Liberation Sans', sans-serif; text-anchor: middle" x="387.15" y="9.85" transform="translate(387.15 10.0) scale(0.994 1) translate(-387.15 -9.85)">Planck spectrum</text>
   </g>
   <g id="LineCollection_3">
    <path d="M 284.527 132.212
L 297.319 132.212
" clip-path="url(#p7d2628ff80)" style="fill: none; stroke: #000000; stroke-width: 1.5"/>
    <path d="M 297.319 104.424
L 310.110 104.424
" clip-path="url(#p7d2628ff80)" style="fill: none; stroke: #000000; stroke-width: 1.5"/>
    <path d="M 310.110 113.976
L 322.902 113.976
" clip-path="url(#p7d2628ff80)" style="fill: none; stroke: #000000; stroke-width: 1.5"/>
    <path d="M 322.902 158.264
L 335.694 158.264
" clip-path="url(#p7d2628ff80)" style="fill: none; stroke: #000000; stroke-width: 1.5"/>
    <path d="M 335.694 135.686
L 348.486 135.686
" clip-path="url(#p7d2628ff80)" style="fill: none; stroke: #000000; stroke-width: 1.5"/>
    <path d="M 348.486 131.344
L 361.277 131.344
" clip-path="url(#p7d2628ff80)" style="fill: none; stroke: #000000; stroke-width: 1.5"/>
    <path d="M 361.277 120.923
L 374.069 120.923
" clip-path="url(#p7d2628ff80)" style="fill: none; stroke: #000000; stroke-width: 1.5"/>
    <path d="M 374.069 123.528
L 386.861 123.528
" clip-path="url(#p7d2628ff80)" style="fill: none; stroke: #000000; stroke-width: 1.5"/>
    <path d="M 386.861 107.029
L 399.653 107.029
" clip-path="url(#p7d2628ff80)" style="fill: none; stroke: #000000; stroke-width: 1.5"/>
    <path d="M 399.653 90.530
L 412.444 90.530
" clip-path="url(#p7d2628ff80)" style="fill: none; stroke: #000000; stroke-width: 1.5"/>
    <path d="M 412.444 146.106
L 425.236 146.106
" clip-path="url(#p7d2628ff80)" style="fill: none; stroke: #000000; stroke-width: 1.5"/>
    <path d="M 425.236 100.082
L 438.028 100.082
" clip-path="url(#p7d2628ff80)" style="fill: none; stroke: #000000; stroke-width: 1.5"/>
    <path d="M 438.028 119.187
L 450.820 119.187
" clip-path="url(#p7d2628ff80)" style="fill: none; stroke: #000000; stroke-width: 1.5"/>
    <path d="M 450.820 65.347
L 463.612 65.347
" clip-path="url(#p7d2628ff80)" style="fill: none; stroke: #000000; stroke-width: 1.5"/>
    <path d="M 463.612 62.742
L 476.403 62.742
" clip-path="url(#p7d2628ff80)" style="fill: none; stroke: #000000; stroke-width: 1.5"/>
    <path d="M 476.403 140.028
L 489.195 140.028
" clip-path="url(#p7d2628ff80)" style="fill: none; stroke: #000000; stroke-width: 1.5"/>
   </g>
   <g id="LineCollection_4">
    <path d="M 290.923 146.888
L 290.923 117.537
" clip-path="url(#p7d2628ff80)" style="fill: none; stroke: #000000; stroke-width: 1.5"/>
    <path d="M 303.714 119.100
L 303.714 89.749
" clip-path="url(#p7d2628ff80)" style="fill: none; stroke: #000000; stroke-width: 1.5"/>
    <path d="M 316.506 127.523
L 316.506 100.430
" clip-path="url(#p7d2628ff80)" style="fill: none; stroke: #000000; stroke-width: 1.5"/>
    <path d="M 329.298 171.810
L 329.298 144.717
" clip-path="url(#p7d2628ff80)" style="fill: none; stroke: #000000; stroke-width: 1.5"/>
    <path d="M 342.090 152.619
L 342.090 118.752
" clip-path="url(#p7d2628ff80)" style="fill: none; stroke: #000000; stroke-width: 1.5"/>
    <path d="M 354.882 147.148
L 354.882 115.539
" clip-path="url(#p7d2628ff80)" style="fill: none; stroke: #000000; stroke-width: 1.5"/>
    <path d="M 367.673 136.728
L 367.673 105.119
" clip-path="url(#p7d2628ff80)" style="fill: none; stroke: #000000; stroke-width: 1.5"/>
    <path d="M 380.465 140.462
L 380.465 106.595
" clip-path="url(#p7d2628ff80)" style="fill: none; stroke: #000000; stroke-width: 1.5"/>
    <path d="M 393.257 123.963
L 393.257 90.096
" clip-path="url(#p7d2628ff80)" style="fill: none; stroke: #000000; stroke-width: 1.5"/>
    <path d="M 406.049 108.592
L 406.049 72.468
" clip-path="url(#p7d2628ff80)" style="fill: none; stroke: #000000; stroke-width: 1.5"/>
    <path d="M 418.840 166.426
L 418.840 125.786
" clip-path="url(#p7d2628ff80)" style="fill: none; stroke: #000000; stroke-width: 1.5"/>
    <path d="M 431.632 120.402
L 431.632 79.762
" clip-path="url(#p7d2628ff80)" style="fill: none; stroke: #000000; stroke-width: 1.5"/>
    <path d="M 444.424 140.635
L 444.424 97.738
" clip-path="url(#p7d2628ff80)" style="fill: none; stroke: #000000; stroke-width: 1.5"/>
    <path d="M 457.216 87.925
L 457.216 42.769
" clip-path="url(#p7d2628ff80)" style="fill: none; stroke: #000000; stroke-width: 1.5"/>
    <path d="M 470.007 87.578
L 470.007 37.906
" clip-path="url(#p7d2628ff80)" style="fill: none; stroke: #000000; stroke-width: 1.5"/>
    <path d="M 482.799 169.379
L 482.799 110.676
" clip-path="url(#p7d2628ff80)" style="fill: none; stroke: #000000; stroke-width: 1.5"/>
   </g>
   <g id="legend_2">
    <g id="line2d_42">
     <path d="M 279.725 25.11
L 285.725 25.11
L 291.725 25.11
" style="fill: none; stroke-dasharray: 5.479,2.37; stroke-dashoffset: 0; stroke: #1f77b4; stroke-width: 1.5"/>
    </g>
    <g id="text_30">
     <!-- Best-fit (525 K), $\chi^2$ = 28, $\sigma$ = 1.9 -->
     <g transform="translate(296.165 27.21) scale(0.993 1)">
      <text>
       <tspan x="0" y="-0.585" style="font-size: 6px; font-family: 'DejaVu Sans', 'Liberation Sans', sans-serif">B</tspan>
       <tspan x="4.116" y="-0.585" style="font-size: 6px; font-family: 'DejaVu Sans', 'Liberation Sans', sans-serif">e</tspan>
       <tspan x="7.807" y="-0.585" style="font-size: 6px; font-family: 'DejaVu Sans', 'Liberation Sans', sans-serif">s</tspan>
       <tspan x="10.933" y="-0.585" style="font-size: 6px; font-family: 'DejaVu Sans', 'Liberation Sans', sans-serif">t</tspan>
       <tspan x="13.286" y="-0.585" style="font-size: 6px; font-family: 'DejaVu Sans', 'Liberation Sans', sans-serif">-</tspan>
       <tspan x="15.451" y="-0.585" style="font-size: 6px; font-family: 'DejaVu Sans', 'Liberation Sans', sans-serif">f</tspan>
       <tspan x="17.563" y="-0.585" style="font-size: 6px; font-family: 'DejaVu Sans', 'Liberation Sans', sans-serif">i</tspan>
       <tspan x="19.230" y="-0.585" style="font-size: 6px; font-family: 'DejaVu Sans', 'Liberation Sans', sans-serif">t</tspan>
       <tspan x="21.583" y="-0.585" style="font-size: 6px; font-family: 'DejaVu Sans', 'Liberation Sans', sans-serif"> </tspan>
       <tspan x="23.490" y="-0.585" style="font-size: 6px; font-family: 'DejaVu Sans', 'Liberation Sans', sans-serif">(</tspan>
       <tspan x="25.831" y="-0.585" style="font-size: 6px; font-family: 'DejaVu Sans', 'Liberation Sans', sans-serif">5</tspan>
       <tspan x="29.648" y="-0.585" style="font-size: 6px; font-family: 'DejaVu Sans', 'Liberation Sans', sans-serif">2</tspan>
       <tspan x="33.465" y="-0.585" style="font-size: 6px; font-family: 'DejaVu Sans', 'Liberation Sans', sans-serif">5</tspan>
       <tspan x="37.283" y="-0.585" style="font-size: 6px; font-family: 'DejaVu Sans', 'Liberation Sans', sans-serif"> </tspan>
       <tspan x="39.190" y="-0.585" style="font-size: 6px; font-family: 'DejaVu Sans', 'Liberation Sans', sans-serif">K</tspan>
       <tspan x="43.125" y="-0.585" style="font-size: 6px; font-family: 'DejaVu Sans', 'Liberation Sans', sans-serif">)</tspan>
       <tspan x="45.465" y="-0.585" style="font-size: 6px; font-family: 'DejaVu Sans', 'Liberation Sans', sans-serif">,</tspan>
       <tspan x="47.373" y="-0.585" style="font-size: 6px; font-family: 'DejaVu Sans', 'Liberation Sans', sans-serif"> </tspan>
       <tspan x="55.935" y="-0.585" style="font-size: 6px; font-family: 'DejaVu Sans', 'Liberation Sans', sans-serif"> </tspan>
       <tspan x="57.842" y="-0.585" style="font-size: 6px; font-family: 'DejaVu Sans', 'Liberation Sans', sans-serif">=</tspan>
       <tspan x="62.869" y="-0.585" style="font-size: 6px; font-family: 'DejaVu Sans', 'Liberation Sans', sans-serif"> </tspan>
       <tspan x="64.777" y="-0.585" style="font-size: 6px; font-family: 'DejaVu Sans', 'Liberation Sans', sans-serif">2</tspan>
       <tspan x="68.594" y="-0.585" style="font-size: 6px; font-family: 'DejaVu Sans', 'Liberation Sans', sans-serif">8</tspan>
       <tspan x="72.411" y="-0.585" style="font-size: 6px; font-family: 'DejaVu Sans', 'Liberation Sans', sans-serif">,</tspan>
       <tspan x="74.319" y="-0.585" style="font-size: 6px; font-family: 'DejaVu Sans', 'Liberation Sans', sans-serif"> </tspan>
       <tspan x="80.029" y="-0.585" style="font-size: 6px; font-family: 'DejaVu Sans', 'Liberation Sans', sans-serif"> </tspan>
       <tspan x="81.936" y="-0.585" style="font-size: 6px; font-family: 'DejaVu Sans', 'Liberation Sans', sans-serif">=</tspan>
       <tspan x="86.963" y="-0.585" style="font-size: 6px; font-family: 'DejaVu Sans', 'Liberation Sans', sans-serif"> </tspan>
       <tspan x="88.870" y="-0.585" style="font-size: 6px; font-family: 'DejaVu Sans', 'Liberation Sans', sans-serif">1</tspan>
       <tspan x="92.688" y="-0.585" style="font-size: 6px; font-family: 'DejaVu Sans', 'Liberation Sans', sans-serif">.</tspan>
       <tspan x="94.595" y="-0.585" style="font-size: 6px; font-family: 'DejaVu Sans', 'Liberation Sans', sans-serif">9</tspan>
       <tspan x="49.280" y="-0.585" style="font-style: oblique; font-size: 6px; font-family: 'DejaVu Sans', 'Liberation Sans', sans-serif">χ</tspan>
       <tspan x="76.226" y="-0.585" style="font-style: oblique; font-size: 6px; font-family: 'DejaVu Sans', 'Liberation Sans', sans-serif">σ</tspan>
       <tspan x="53.099" y="-2.882" style="font-size: 4.2px; font-family: 'DejaVu Sans', 'Liberation Sans', sans-serif">2</tspan>
      </text>
     </g>
    </g>
    <g id="line2d_43">
     <path d="M 279.725 35.97
L 285.725 35.97
L 291.725 35.97
" style="fill: none; stroke-dasharray: 5.479,2.37; stroke-dashoffset: 0; stroke: #af2d37; stroke-opacity: 0.66; stroke-width: 1.5"/>
    </g>
    <g id="text_31">
     <!-- $f$ = 0.67, $\alpha_B$ = 0.0 (549 K), $\chi^2$ = 28, $\sigma$ = 1.9 -->
     <g transform="translate(296.165 38.07) scale(0.993 1)">
      <text>
       <tspan x="0" y="-0.585" style="font-style: oblique; font-size: 6px; font-family: 'DejaVu Sans', 'Liberation Sans', sans-serif">f</tspan>
       <tspan x="28.127" y="-0.585" style="font-style: oblique; font-size: 6px; font-family: 'DejaVu Sans', 'Liberation Sans', sans-serif">α</tspan>
       <tspan x="81.209" y="-0.585" style="font-style: oblique; font-size: 6px; font-family: 'DejaVu Sans', 'Liberation Sans', sans-serif">χ</tspan>
       <tspan x="108.155" y="-0.585" style="font-style: oblique; font-size: 6px; font-family: 'DejaVu Sans', 'Liberation Sans', sans-serif">σ</tspan>
       <tspan x="2.112" y="-0.585" style="font-size: 6px; font-family: 'DejaVu Sans', 'Liberation Sans', sans-serif"> </tspan>
       <tspan x="4.019" y="-0.585" style="font-size: 6px; font-family: 'DejaVu Sans', 'Liberation Sans', sans-serif">=</tspan>
       <tspan x="9.046" y="-0.585" style="font-size: 6px; font-family: 'DejaVu Sans', 'Liberation Sans', sans-serif"> </tspan>
       <tspan x="10.954" y="-0.585" style="font-size: 6px; font-family: 'DejaVu Sans', 'Liberation Sans', sans-serif">0</tspan>
       <tspan x="14.771" y="-0.585" style="font-size: 6px; font-family: 'DejaVu Sans', 'Liberation Sans', sans-serif">.</tspan>
       <tspan x="16.678" y="-0.585" style="font-size: 6px; font-family: 'DejaVu Sans', 'Liberation Sans', sans-serif">6</tspan>
       <tspan x="20.496" y="-0.585" style="font-size: 6px; font-family: 'DejaVu Sans', 'Liberation Sans', sans-serif">7</tspan>
       <tspan x="24.313" y="-0.585" style="font-size: 6px; font-family: 'DejaVu Sans', 'Liberation Sans', sans-serif">,</tspan>
       <tspan x="26.220" y="-0.585" style="font-size: 6px; font-family: 'DejaVu Sans', 'Liberation Sans', sans-serif"> </tspan>
       <tspan x="35.128" y="-0.585" style="font-size: 6px; font-family: 'DejaVu Sans', 'Liberation Sans', sans-serif"> </tspan>
       <tspan x="37.035" y="-0.585" style="font-size: 6px; font-family: 'DejaVu Sans', 'Liberation Sans', sans-serif">=</tspan>
       <tspan x="42.062" y="-0.585" style="font-size: 6px; font-family: 'DejaVu Sans', 'Liberation Sans', sans-serif"> </tspan>
       <tspan x="43.970" y="-0.585" style="font-size: 6px; font-family: 'DejaVu Sans', 'Liberation Sans', sans-serif">0</tspan>
       <tspan x="47.787" y="-0.585" style="font-size: 6px; font-family: 'DejaVu Sans', 'Liberation Sans', sans-serif">.</tspan>
       <tspan x="49.694" y="-0.585" style="font-size: 6px; font-family: 'DejaVu Sans', 'Liberation Sans', sans-serif">0</tspan>
       <tspan x="53.512" y="-0.585" style="font-size: 6px; font-family: 'DejaVu Sans', 'Liberation Sans', sans-serif"> </tspan>
       <tspan x="55.419" y="-0.585" style="font-size: 6px; font-family: 'DejaVu Sans', 'Liberation Sans', sans-serif">(</tspan>
       <tspan x="57.760" y="-0.585" style="font-size: 6px; font-family: 'DejaVu Sans', 'Liberation Sans', sans-serif">5</tspan>
       <tspan x="61.577" y="-0.585" style="font-size: 6px; font-family: 'DejaVu Sans', 'Liberation Sans', sans-serif">4</tspan>
       <tspan x="65.395" y="-0.585" style="font-size: 6px; font-family: 'DejaVu Sans', 'Liberation Sans', sans-serif">9</tspan>
       <tspan x="69.212" y="-0.585" style="font-size: 6px; font-family: 'DejaVu Sans', 'Liberation Sans', sans-serif"> </tspan>
       <tspan x="71.119" y="-0.585" style="font-size: 6px; font-family: 'DejaVu Sans', 'Liberation Sans', sans-serif">K</tspan>
       <tspan x="75.054" y="-0.585" style="font-size: 6px; font-family: 'DejaVu Sans', 'Liberation Sans', sans-serif">)</tspan>
       <tspan x="77.395" y="-0.585" style="font-size: 6px; font-family: 'DejaVu Sans', 'Liberation Sans', sans-serif">,</tspan>
       <tspan x="79.302" y="-0.585" style="font-size: 6px; font-family: 'DejaVu Sans', 'Liberation Sans', sans-serif"> </tspan>
       <tspan x="87.864" y="-0.585" style="font-size: 6px; font-family: 'DejaVu Sans', 'Liberation Sans', sans-serif"> </tspan>
       <tspan x="89.771" y="-0.585" style="font-size: 6px; font-family: 'DejaVu Sans', 'Liberation Sans', sans-serif">=</tspan>
       <tspan x="94.799" y="-0.585" style="font-size: 6px; font-family: 'DejaVu Sans', 'Liberation Sans', sans-serif"> </tspan>
       <tspan x="96.706" y="-0.585" style="font-size: 6px; font-family: 'DejaVu Sans', 'Liberation Sans', sans-serif">2</tspan>
       <tspan x="100.523" y="-0.585" style="font-size: 6px; font-family: 'DejaVu Sans', 'Liberation Sans', sans-serif">8</tspan>
       <tspan x="104.341" y="-0.585" style="font-size: 6px; font-family: 'DejaVu Sans', 'Liberation Sans', sans-serif">,</tspan>
       <tspan x="106.248" y="-0.585" style="font-size: 6px; font-family: 'DejaVu Sans', 'Liberation Sans', sans-serif"> </tspan>
       <tspan x="111.958" y="-0.585" style="font-size: 6px; font-family: 'DejaVu Sans', 'Liberation Sans', sans-serif"> </tspan>
       <tspan x="113.865" y="-0.585" style="font-size: 6px; font-family: 'DejaVu Sans', 'Liberation Sans', sans-serif">=</tspan>
       <tspan x="118.892" y="-0.585" style="font-size: 6px; font-family: 'DejaVu Sans', 'Liberation Sans', sans-serif"> </tspan>
       <tspan x="120.8" y="-0.585" style="font-size: 6px; font-family: 'DejaVu Sans', 'Liberation Sans', sans-serif">1</tspan>
       <tspan x="124.617" y="-0.585" style="font-size: 6px; font-family: 'DejaVu Sans', 'Liberation Sans', sans-serif">.</tspan>
       <tspan x="126.524" y="-0.585" style="font-size: 6px; font-family: 'DejaVu Sans', 'Liberation Sans', sans-serif">9</tspan>
       <tspan x="32.083" y="0.398" style="font-style: oblique; font-size: 4.2px; font-family: 'DejaVu Sans', 'Liberation Sans', sans-serif">B</tspan>
       <tspan x="85.028" y="-2.882" style="font-size: 4.2px; font-family: 'DejaVu Sans', 'Liberation Sans', sans-serif">2</tspan>
      </text>
     </g>
    </g>
    <g id="line2d_44">
     <path d="M 279.725 46.83
L 285.725 46.83
L 291.725 46.83
" style="fill: none; stroke-dasharray: 5.479,2.37; stroke-dashoffset: 0; stroke: #af2d37; stroke-opacity: 0.36; stroke-width: 1.5"/>
    </g>
    <g id="text_32">
     <!-- $f$ = 0.25, $\alpha_B$ = 0.0 (429 K), $\chi^2$ = 56, $\sigma$ = 4.6 -->
     <g transform="translate(296.165 48.93) scale(0.993 1)">
      <text>
       <tspan x="0" y="-0.585" style="font-style: oblique; font-size: 6px; font-family: 'DejaVu Sans', 'Liberation Sans', sans-serif">f</tspan>
       <tspan x="27.752" y="-0.585" style="font-style: oblique; font-size: 6px; font-family: 'DejaVu Sans', 'Liberation Sans', sans-serif">α</tspan>
       <tspan x="80.709" y="-0.585" style="font-style: oblique; font-size: 6px; font-family: 'DejaVu Sans', 'Liberation Sans', sans-serif">χ</tspan>
       <tspan x="107.655" y="-0.585" style="font-style: oblique; font-size: 6px; font-family: 'DejaVu Sans', 'Liberation Sans', sans-serif">σ</tspan>
       <tspan x="2.112" y="-0.585" style="font-size: 6px; font-family: 'DejaVu Sans', 'Liberation Sans', sans-serif"> </tspan>
       <tspan x="4.019" y="-0.585" style="font-size: 6px; font-family: 'DejaVu Sans', 'Liberation Sans', sans-serif">=</tspan>
       <tspan x="9.046" y="-0.585" style="font-size: 6px; font-family: 'DejaVu Sans', 'Liberation Sans', sans-serif"> </tspan>
       <tspan x="10.954" y="-0.585" style="font-size: 6px; font-family: 'DejaVu Sans', 'Liberation Sans', sans-serif">0</tspan>
       <tspan x="14.771" y="-0.585" style="font-size: 6px; font-family: 'DejaVu Sans', 'Liberation Sans', sans-serif">.</tspan>
       <tspan x="16.303" y="-0.585" style="font-size: 6px; font-family: 'DejaVu Sans', 'Liberation Sans', sans-serif">2</tspan>
       <tspan x="20.121" y="-0.585" style="font-size: 6px; font-family: 'DejaVu Sans', 'Liberation Sans', sans-serif">5</tspan>
       <tspan x="23.938" y="-0.585" style="font-size: 6px; font-family: 'DejaVu Sans', 'Liberation Sans', sans-serif">,</tspan>
       <tspan x="25.845" y="-0.585" style="font-size: 6px; font-family: 'DejaVu Sans', 'Liberation Sans', sans-serif"> </tspan>
       <tspan x="34.753" y="-0.585" style="font-size: 6px; font-family: 'DejaVu Sans', 'Liberation Sans', sans-serif"> </tspan>
       <tspan x="36.660" y="-0.585" style="font-size: 6px; font-family: 'DejaVu Sans', 'Liberation Sans', sans-serif">=</tspan>
       <tspan x="41.687" y="-0.585" style="font-size: 6px; font-family: 'DejaVu Sans', 'Liberation Sans', sans-serif"> </tspan>
       <tspan x="43.595" y="-0.585" style="font-size: 6px; font-family: 'DejaVu Sans', 'Liberation Sans', sans-serif">0</tspan>
       <tspan x="47.412" y="-0.585" style="font-size: 6px; font-family: 'DejaVu Sans', 'Liberation Sans', sans-serif">.</tspan>
       <tspan x="49.319" y="-0.585" style="font-size: 6px; font-family: 'DejaVu Sans', 'Liberation Sans', sans-serif">0</tspan>
       <tspan x="53.137" y="-0.585" style="font-size: 6px; font-family: 'DejaVu Sans', 'Liberation Sans', sans-serif"> </tspan>
       <tspan x="55.044" y="-0.585" style="font-size: 6px; font-family: 'DejaVu Sans', 'Liberation Sans', sans-serif">(</tspan>
       <tspan x="57.385" y="-0.585" style="font-size: 6px; font-family: 'DejaVu Sans', 'Liberation Sans', sans-serif">4</tspan>
       <tspan x="61.202" y="-0.585" style="font-size: 6px; font-family: 'DejaVu Sans', 'Liberation Sans', sans-serif">2</tspan>
       <tspan x="64.895" y="-0.585" style="font-size: 6px; font-family: 'DejaVu Sans', 'Liberation Sans', sans-serif">9</tspan>
       <tspan x="68.712" y="-0.585" style="font-size: 6px; font-family: 'DejaVu Sans', 'Liberation Sans', sans-serif"> </tspan>
       <tspan x="70.619" y="-0.585" style="font-size: 6px; font-family: 'DejaVu Sans', 'Liberation Sans', sans-serif">K</tspan>
       <tspan x="74.554" y="-0.585" style="font-size: 6px; font-family: 'DejaVu Sans', 'Liberation Sans', sans-serif">)</tspan>
       <tspan x="76.895" y="-0.585" style="font-size: 6px; font-family: 'DejaVu Sans', 'Liberation Sans', sans-serif">,</tspan>
       <tspan x="78.802" y="-0.585" style="font-size: 6px; font-family: 'DejaVu Sans', 'Liberation Sans', sans-serif"> </tspan>
       <tspan x="87.364" y="-0.585" style="font-size: 6px; font-family: 'DejaVu Sans', 'Liberation Sans', sans-serif"> </tspan>
       <tspan x="89.271" y="-0.585" style="font-size: 6px; font-family: 'DejaVu Sans', 'Liberation Sans', sans-serif">=</tspan>
       <tspan x="94.299" y="-0.585" style="font-size: 6px; font-family: 'DejaVu Sans', 'Liberation Sans', sans-serif"> </tspan>
       <tspan x="96.206" y="-0.585" style="font-size: 6px; font-family: 'DejaVu Sans', 'Liberation Sans', sans-serif">5</tspan>
       <tspan x="100.023" y="-0.585" style="font-size: 6px; font-family: 'DejaVu Sans', 'Liberation Sans', sans-serif">6</tspan>
       <tspan x="103.841" y="-0.585" style="font-size: 6px; font-family: 'DejaVu Sans', 'Liberation Sans', sans-serif">,</tspan>
       <tspan x="105.748" y="-0.585" style="font-size: 6px; font-family: 'DejaVu Sans', 'Liberation Sans', sans-serif"> </tspan>
       <tspan x="111.458" y="-0.585" style="font-size: 6px; font-family: 'DejaVu Sans', 'Liberation Sans', sans-serif"> </tspan>
       <tspan x="113.365" y="-0.585" style="font-size: 6px; font-family: 'DejaVu Sans', 'Liberation Sans', sans-serif">=</tspan>
       <tspan x="118.392" y="-0.585" style="font-size: 6px; font-family: 'DejaVu Sans', 'Liberation Sans', sans-serif"> </tspan>
       <tspan x="120.3" y="-0.585" style="font-size: 6px; font-family: 'DejaVu Sans', 'Liberation Sans', sans-serif">4</tspan>
       <tspan x="124.117" y="-0.585" style="font-size: 6px; font-family: 'DejaVu Sans', 'Liberation Sans', sans-serif">.</tspan>
       <tspan x="126.024" y="-0.585" style="font-size: 6px; font-family: 'DejaVu Sans', 'Liberation Sans', sans-serif">6</tspan>
       <tspan x="31.708" y="0.398" style="font-style: oblique; font-size: 4.2px; font-family: 'DejaVu Sans', 'Liberation Sans', sans-serif">B</tspan>
       <tspan x="84.528" y="-2.882" style="font-size: 4.2px; font-family: 'DejaVu Sans', 'Liberation Sans', sans-serif">2</tspan>
      </text>
     </g>
    </g>
    <g id="line2d_45">
     <path d="M 279.725 57.69
L 285.725 57.69
L 291.725 57.69
" style="fill: none; stroke-dasharray: 5.479,2.37; stroke-dashoffset: 0; stroke: #af2d37; stroke-opacity: 0.28; stroke-width: 1.5"/>
    </g>
    <g id="text_33">
     <!-- $f$ = 0.25, $\alpha_B$ = 0.77 (297 K), $\chi^2$ = 116, $\sigma$ = 8.4 -->
     <g transform="translate(296.165 59.79) scale(0.993 1)">
      <text>
       <tspan x="0" y="-0.585" style="font-style: oblique; font-size: 6px; font-family: 'DejaVu Sans', 'Liberation Sans', sans-serif">f</tspan>
       <tspan x="27.752" y="-0.585" style="font-style: oblique; font-size: 6px; font-family: 'DejaVu Sans', 'Liberation Sans', sans-serif">α</tspan>
       <tspan x="83.901" y="-0.585" style="font-style: oblique; font-size: 6px; font-family: 'DejaVu Sans', 'Liberation Sans', sans-serif">χ</tspan>
       <tspan x="114.665" y="-0.585" style="font-style: oblique; font-size: 6px; font-family: 'DejaVu Sans', 'Liberation Sans', sans-serif">σ</tspan>
       <tspan x="2.112" y="-0.585" style="font-size: 6px; font-family: 'DejaVu Sans', 'Liberation Sans', sans-serif"> </tspan>
       <tspan x="4.019" y="-0.585" style="font-size: 6px; font-family: 'DejaVu Sans', 'Liberation Sans', sans-serif">=</tspan>
       <tspan x="9.046" y="-0.585" style="font-size: 6px; font-family: 'DejaVu Sans', 'Liberation Sans', sans-serif"> </tspan>
       <tspan x="10.954" y="-0.585" style="font-size: 6px; font-family: 'DejaVu Sans', 'Liberation Sans', sans-serif">0</tspan>
       <tspan x="14.771" y="-0.585" style="font-size: 6px; font-family: 'DejaVu Sans', 'Liberation Sans', sans-serif">.</tspan>
       <tspan x="16.303" y="-0.585" style="font-size: 6px; font-family: 'DejaVu Sans', 'Liberation Sans', sans-serif">2</tspan>
       <tspan x="20.121" y="-0.585" style="font-size: 6px; font-family: 'DejaVu Sans', 'Liberation Sans', sans-serif">5</tspan>
       <tspan x="23.938" y="-0.585" style="font-size: 6px; font-family: 'DejaVu Sans', 'Liberation Sans', sans-serif">,</tspan>
       <tspan x="25.845" y="-0.585" style="font-size: 6px; font-family: 'DejaVu Sans', 'Liberation Sans', sans-serif"> </tspan>
       <tspan x="34.753" y="-0.585" style="font-size: 6px; font-family: 'DejaVu Sans', 'Liberation Sans', sans-serif"> </tspan>
       <tspan x="36.660" y="-0.585" style="font-size: 6px; font-family: 'DejaVu Sans', 'Liberation Sans', sans-serif">=</tspan>
       <tspan x="41.687" y="-0.585" style="font-size: 6px; font-family: 'DejaVu Sans', 'Liberation Sans', sans-serif"> </tspan>
       <tspan x="43.595" y="-0.585" style="font-size: 6px; font-family: 'DejaVu Sans', 'Liberation Sans', sans-serif">0</tspan>
       <tspan x="47.412" y="-0.585" style="font-size: 6px; font-family: 'DejaVu Sans', 'Liberation Sans', sans-serif">.</tspan>
       <tspan x="48.819" y="-0.585" style="font-size: 6px; font-family: 'DejaVu Sans', 'Liberation Sans', sans-serif">7</tspan>
       <tspan x="52.512" y="-0.585" style="font-size: 6px; font-family: 'DejaVu Sans', 'Liberation Sans', sans-serif">7</tspan>
       <tspan x="56.329" y="-0.585" style="font-size: 6px; font-family: 'DejaVu Sans', 'Liberation Sans', sans-serif"> </tspan>
       <tspan x="58.236" y="-0.585" style="font-size: 6px; font-family: 'DejaVu Sans', 'Liberation Sans', sans-serif">(</tspan>
       <tspan x="60.577" y="-0.585" style="font-size: 6px; font-family: 'DejaVu Sans', 'Liberation Sans', sans-serif">2</tspan>
       <tspan x="64.270" y="-0.585" style="font-size: 6px; font-family: 'DejaVu Sans', 'Liberation Sans', sans-serif">9</tspan>
       <tspan x="68.087" y="-0.585" style="font-size: 6px; font-family: 'DejaVu Sans', 'Liberation Sans', sans-serif">7</tspan>
       <tspan x="71.904" y="-0.585" style="font-size: 6px; font-family: 'DejaVu Sans', 'Liberation Sans', sans-serif"> </tspan>
       <tspan x="73.812" y="-0.585" style="font-size: 6px; font-family: 'DejaVu Sans', 'Liberation Sans', sans-serif">K</tspan>
       <tspan x="77.746" y="-0.585" style="font-size: 6px; font-family: 'DejaVu Sans', 'Liberation Sans', sans-serif">)</tspan>
       <tspan x="80.087" y="-0.585" style="font-size: 6px; font-family: 'DejaVu Sans', 'Liberation Sans', sans-serif">,</tspan>
       <tspan x="81.994" y="-0.585" style="font-size: 6px; font-family: 'DejaVu Sans', 'Liberation Sans', sans-serif"> </tspan>
       <tspan x="90.556" y="-0.585" style="font-size: 6px; font-family: 'DejaVu Sans', 'Liberation Sans', sans-serif"> </tspan>
       <tspan x="92.464" y="-0.585" style="font-size: 6px; font-family: 'DejaVu Sans', 'Liberation Sans', sans-serif">=</tspan>
       <tspan x="97.491" y="-0.585" style="font-size: 6px; font-family: 'DejaVu Sans', 'Liberation Sans', sans-serif"> </tspan>
       <tspan x="99.398" y="-0.585" style="font-size: 6px; font-family: 'DejaVu Sans', 'Liberation Sans', sans-serif">1</tspan>
       <tspan x="103.216" y="-0.585" style="font-size: 6px; font-family: 'DejaVu Sans', 'Liberation Sans', sans-serif">1</tspan>
       <tspan x="107.033" y="-0.585" style="font-size: 6px; font-family: 'DejaVu Sans', 'Liberation Sans', sans-serif">6</tspan>
       <tspan x="110.850" y="-0.585" style="font-size: 6px; font-family: 'DejaVu Sans', 'Liberation Sans', sans-serif">,</tspan>
       <tspan x="112.758" y="-0.585" style="font-size: 6px; font-family: 'DejaVu Sans', 'Liberation Sans', sans-serif"> </tspan>
       <tspan x="118.467" y="-0.585" style="font-size: 6px; font-family: 'DejaVu Sans', 'Liberation Sans', sans-serif"> </tspan>
       <tspan x="120.375" y="-0.585" style="font-size: 6px; font-family: 'DejaVu Sans', 'Liberation Sans', sans-serif">=</tspan>
       <tspan x="125.402" y="-0.585" style="font-size: 6px; font-family: 'DejaVu Sans', 'Liberation Sans', sans-serif"> </tspan>
       <tspan x="127.309" y="-0.585" style="font-size: 6px; font-family: 'DejaVu Sans', 'Liberation Sans', sans-serif">8</tspan>
       <tspan x="131.127" y="-0.585" style="font-size: 6px; font-family: 'DejaVu Sans', 'Liberation Sans', sans-serif">.</tspan>
       <tspan x="133.034" y="-0.585" style="font-size: 6px; font-family: 'DejaVu Sans', 'Liberation Sans', sans-serif">4</tspan>
       <tspan x="31.708" y="0.398" style="font-style: oblique; font-size: 4.2px; font-family: 'DejaVu Sans', 'Liberation Sans', sans-serif">B</tspan>
       <tspan x="87.720" y="-2.882" style="font-size: 4.2px; font-family: 'DejaVu Sans', 'Liberation Sans', sans-serif">2</tspan>
      </text>
     </g>
    </g>
    <g id="line2d_46">
     <path d="M 279.725 68.55
L 285.725 68.55
L 291.725 68.55
" style="fill: none; stroke-dasharray: 5.479,2.37; stroke-dashoffset: 0; stroke: #af2d37; stroke-opacity: 0.24; stroke-width: 1.5"/>
    </g>
    <g id="text_34">
     <!-- No eclipse, $\chi^2$ = 132, $\sigma$ = 9.2 -->
     <g transform="translate(296.165 70.65) scale(0.993 1)">
      <text>
       <tspan x="0" y="-0.585" style="font-size: 6px; font-family: 'DejaVu Sans', 'Liberation Sans', sans-serif">N</tspan>
       <tspan x="4.488" y="-0.585" style="font-size: 6px; font-family: 'DejaVu Sans', 'Liberation Sans', sans-serif">o</tspan>
       <tspan x="8.159" y="-0.585" style="font-size: 6px; font-family: 'DejaVu Sans', 'Liberation Sans', sans-serif"> </tspan>
       <tspan x="10.066" y="-0.585" style="font-size: 6px; font-family: 'DejaVu Sans', 'Liberation Sans', sans-serif">e</tspan>
       <tspan x="13.757" y="-0.585" style="font-size: 6px; font-family: 'DejaVu Sans', 'Liberation Sans', sans-serif">c</tspan>
       <tspan x="17.056" y="-0.585" style="font-size: 6px; font-family: 'DejaVu Sans', 'Liberation Sans', sans-serif">l</tspan>
       <tspan x="18.723" y="-0.585" style="font-size: 6px; font-family: 'DejaVu Sans', 'Liberation Sans', sans-serif">i</tspan>
       <tspan x="20.390" y="-0.585" style="font-size: 6px; font-family: 'DejaVu Sans', 'Liberation Sans', sans-serif">p</tspan>
       <tspan x="24.199" y="-0.585" style="font-size: 6px; font-family: 'DejaVu Sans', 'Liberation Sans', sans-serif">s</tspan>
       <tspan x="27.325" y="-0.585" style="font-size: 6px; font-family: 'DejaVu Sans', 'Liberation Sans', sans-serif">e</tspan>
       <tspan x="31.016" y="-0.585" style="font-size: 6px; font-family: 'DejaVu Sans', 'Liberation Sans', sans-serif">,</tspan>
       <tspan x="32.923" y="-0.585" style="font-size: 6px; font-family: 'DejaVu Sans', 'Liberation Sans', sans-serif"> </tspan>
       <tspan x="41.486" y="-0.585" style="font-size: 6px; font-family: 'DejaVu Sans', 'Liberation Sans', sans-serif"> </tspan>
       <tspan x="43.393" y="-0.585" style="font-size: 6px; font-family: 'DejaVu Sans', 'Liberation Sans', sans-serif">=</tspan>
       <tspan x="48.420" y="-0.585" style="font-size: 6px; font-family: 'DejaVu Sans', 'Liberation Sans', sans-serif"> </tspan>
       <tspan x="50.327" y="-0.585" style="font-size: 6px; font-family: 'DejaVu Sans', 'Liberation Sans', sans-serif">1</tspan>
       <tspan x="54.145" y="-0.585" style="font-size: 6px; font-family: 'DejaVu Sans', 'Liberation Sans', sans-serif">3</tspan>
       <tspan x="57.962" y="-0.585" style="font-size: 6px; font-family: 'DejaVu Sans', 'Liberation Sans', sans-serif">2</tspan>
       <tspan x="61.779" y="-0.585" style="font-size: 6px; font-family: 'DejaVu Sans', 'Liberation Sans', sans-serif">,</tspan>
       <tspan x="63.687" y="-0.585" style="font-size: 6px; font-family: 'DejaVu Sans', 'Liberation Sans', sans-serif"> </tspan>
       <tspan x="69.397" y="-0.585" style="font-size: 6px; font-family: 'DejaVu Sans', 'Liberation Sans', sans-serif"> </tspan>
       <tspan x="71.304" y="-0.585" style="font-size: 6px; font-family: 'DejaVu Sans', 'Liberation Sans', sans-serif">=</tspan>
       <tspan x="76.331" y="-0.585" style="font-size: 6px; font-family: 'DejaVu Sans', 'Liberation Sans', sans-serif"> </tspan>
       <tspan x="78.238" y="-0.585" style="font-size: 6px; font-family: 'DejaVu Sans', 'Liberation Sans', sans-serif">9</tspan>
       <tspan x="82.056" y="-0.585" style="font-size: 6px; font-family: 'DejaVu Sans', 'Liberation Sans', sans-serif">.</tspan>
       <tspan x="83.588" y="-0.585" style="font-size: 6px; font-family: 'DejaVu Sans', 'Liberation Sans', sans-serif">2</tspan>
       <tspan x="34.831" y="-0.585" style="font-style: oblique; font-size: 6px; font-family: 'DejaVu Sans', 'Liberation Sans', sans-serif">χ</tspan>
       <tspan x="65.594" y="-0.585" style="font-style: oblique; font-size: 6px; font-family: 'DejaVu Sans', 'Liberation Sans', sans-serif">σ</tspan>
       <tspan x="38.649" y="-2.882" style="font-size: 4.2px; font-family: 'DejaVu Sans', 'Liberation Sans', sans-serif">2</tspan>
      </text>
     </g>
    </g>
   </g>
  </g>
 </g>
 <defs>
  <clipPath id="pc95f56667c">
   <rect x="39.35" y="15.85" width="225.65" height="160.65"/>
  </clipPath>
  <clipPath id="p7d2628ff80">
   <rect x="274.325" y="15.85" width="225.65" height="160.65"/>
  </clipPath>
 </defs>
</svg>

</body></html>
